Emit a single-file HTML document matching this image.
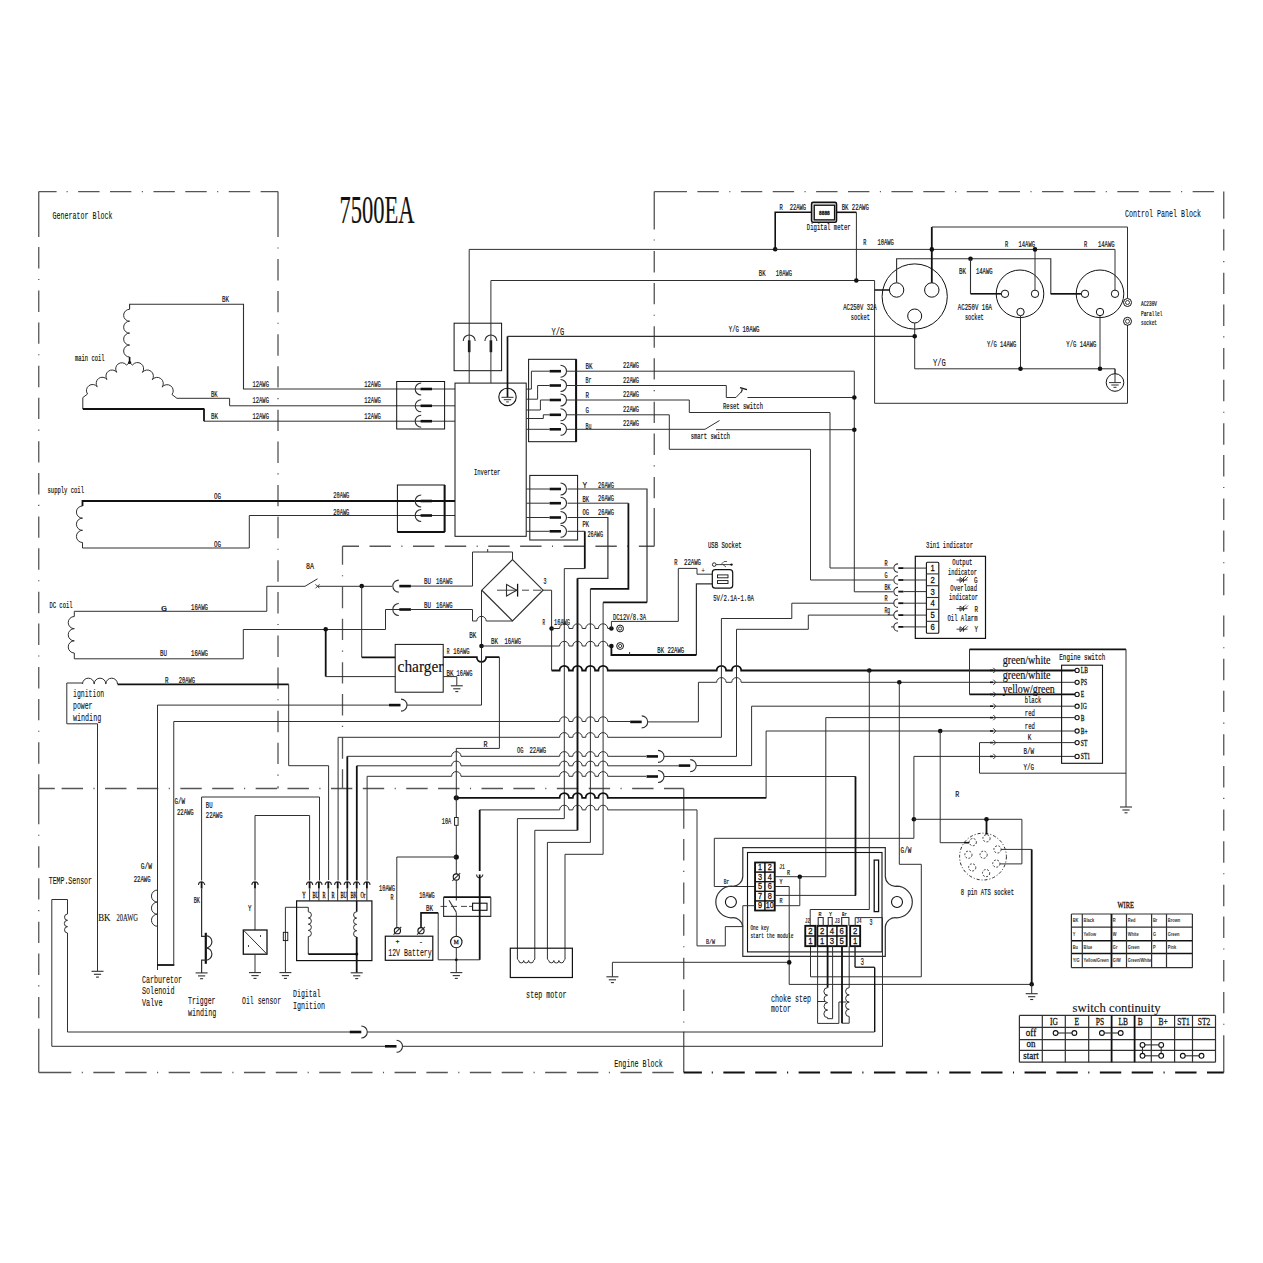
<!DOCTYPE html>
<html><head><meta charset="utf-8"><style>
html,body{margin:0;padding:0;background:#fff;}
body{width:1263px;height:1263px;overflow:hidden;font-family:"Liberation Serif",serif;}
svg{display:block;}
</style></head><body>
<svg width="1263" height="1263" viewBox="0 0 1263 1263">
<rect width="1263" height="1263" fill="#fff"/>
<path d="M38.75 191.5 V237 M38.75 247.1 V268.5 M38.75 278.95 V280.05 M38.75 290.55 V311.95 M38.75 322.4 V343.8 M38.75 354.25 V355.35 M38.75 365.85 V387.25 M38.75 397.7 V419.1 M38.75 429.55 V430.65 M38.75 441.15 V462.55 M38.75 473 V494.4 M38.75 504.85 V505.95 M38.75 516.45 V537.85 M38.75 548.3 V569.7 M38.75 580.15 V581.25 M38.75 591.75 V613.15 M38.75 623.6 V645 M38.75 655.45 V656.55 M38.75 667.05 V688.45 M38.75 698.9 V720.3 M38.75 730.75 V731.85 M38.75 742.35 V763.75 M38.75 774.2 V788.5" fill="none" stroke="#555" stroke-width="1.3"/>
<path d="M38.75 788.5 V824.3 M38.75 834.75 V835.85 M38.75 846.35 V867.75 M38.75 878.2 V899.6 M38.75 910.05 V911.15 M38.75 921.65 V943.05 M38.75 953.5 V974.9 M38.75 985.35 V986.45 M38.75 996.95 V1018.35 M38.75 1028.8 V1072.5" fill="none" stroke="#555" stroke-width="1.3"/>
<path d="M38.75 191.6 H56.6 M66.55 191.6 H67.65 M78.15 191.6 H99.55 M110 191.6 H131.4 M141.85 191.6 H142.95 M153.45 191.6 H174.85 M185.3 191.6 H206.7 M217.15 191.6 H218.25 M228.75 191.6 H250.15 M260.6 191.6 H278" fill="none" stroke="#555" stroke-width="1.3"/>
<path d="M278 191.6 V237 M278 247.45 V248.55 M278 259.05 V280.45 M278 290.9 V312.3 M278 322.75 V323.85 M278 334.35 V355.75 M278 366.2 V387.6 M278 398.05 V399.15 M278 409.65 V431.05 M278 441.5 V462.9 M278 473.35 V474.45 M278 484.95 V506.35 M278 516.8 V538.2 M278 548.65 V549.75 M278 560.25 V581.65 M278 592.1 V613.5 M278 623.95 V625.05 M278 635.55 V656.95 M278 667.4 V688.8 M278 699.25 V700.35 M278 710.85 V732.25 M278 742.7 V764.1 M278 774.55 V775.65 M278 786.15 V788.5" fill="none" stroke="#555" stroke-width="1.3"/>
<path d="M38.75 788.5 H54.8 M61.6 788.5 H83 M93.45 788.5 H94.55 M105.05 788.5 H126.45 M136.9 788.5 H158.3 M168.75 788.5 H169.85 M180.35 788.5 H201.75 M212.2 788.5 H233.6 M244.05 788.5 H245.15 M255.65 788.5 H277.05 M287.5 788.5 H308.9 M319.35 788.5 H320.45 M330.95 788.5 H352.35 M362.8 788.5 H384.2 M394.65 788.5 H395.75 M406.25 788.5 H427.65 M438.1 788.5 H459.5 M469.95 788.5 H471.05 M481.55 788.5 H502.95 M513.4 788.5 H534.8 M545.25 788.5 H546.35 M556.85 788.5 H578.25 M588.7 788.5 H610.1 M620.55 788.5 H621.65 M632.15 788.5 H653.55 M664 788.5 H683.75" fill="none" stroke="#555" stroke-width="1.3"/>
<path d="M654.25 191.6 V229.5 M654.25 239.45 V240.55 M654.25 251.05 V272.45 M654.25 282.9 V304.3 M654.25 314.75 V315.85 M654.25 326.35 V347.75 M654.25 358.2 V379.6 M654.25 390.05 V391.15 M654.25 401.65 V423.05 M654.25 433.5 V454.9 M654.25 465.35 V466.45 M654.25 476.95 V498.35 M654.25 508 V546.25" fill="none" stroke="#555" stroke-width="1.3"/>
<path d="M654.25 191.6 H686.95 M697.4 191.6 H718.8 M729.25 191.6 H730.35 M740.85 191.6 H762.25 M772.7 191.6 H794.1 M804.55 191.6 H805.65 M816.15 191.6 H837.55 M848 191.6 H869.4 M879.85 191.6 H880.95 M891.45 191.6 H912.85 M923.3 191.6 H944.7 M955.15 191.6 H956.25 M966.75 191.6 H988.15 M998.6 191.6 H1020 M1030.45 191.6 H1031.55 M1042.05 191.6 H1063.45 M1073.9 191.6 H1095.3 M1105.75 191.6 H1106.85 M1117.35 191.6 H1138.75 M1149.2 191.6 H1170.6 M1181.05 191.6 H1182.15 M1192.65 191.6 H1214.05" fill="none" stroke="#555" stroke-width="1.3"/>
<path d="M1223.75 191.6 V218.8 M1223.75 229.2 V250.6 M1223.75 261.05 V262.15 M1223.75 272.65 V294.05 M1223.75 304.5 V325.9 M1223.75 336.35 V337.45 M1223.75 347.95 V369.35 M1223.75 379.8 V401.2 M1223.75 411.65 V412.75 M1223.75 423.25 V444.65 M1223.75 455.1 V476.5 M1223.75 486.95 V488.05 M1223.75 498.55 V519.95 M1223.75 530.4 V551.8 M1223.75 562.25 V563.35 M1223.75 573.85 V595.25" fill="none" stroke="#555" stroke-width="1.3"/>
<path d="M1223.75 615.4 V636.8 M1223.75 647.25 V648.35 M1223.75 658.85 V680.25 M1223.75 690.7 V712.1 M1223.75 722.55 V723.65 M1223.75 734.15 V755.55 M1223.75 766 V787.4 M1223.75 797.85 V798.95 M1223.75 809.45 V830.85 M1223.75 841.3 V862.7 M1223.75 873.15 V874.25 M1223.75 884.75 V906.15 M1223.75 916.6 V938 M1223.75 948.45 V949.55 M1223.75 960.05 V981.45 M1223.75 991.9 V1013.3 M1223.75 1023.75 V1024.85 M1223.75 1035.35 V1072.5" fill="none" stroke="#555" stroke-width="1.3"/>
<path d="M342.5 546.25 H359.05 M369.5 546.25 H390.9 M401.35 546.25 H402.45 M412.95 546.25 H434.35 M444.8 546.25 H466.2 M476.65 546.25 H477.75 M488.25 546.25 H509.65 M520.1 546.25 H541.5 M551.95 546.25 H553.05 M563.55 546.25 H584.95 M595.4 546.25 H616.8 M627.25 546.25 H628.35 M638.85 546.25 H654.25" fill="none" stroke="#555" stroke-width="1.3"/>
<path d="M342.5 546.25 V564.8 M342.5 575.25 V576.35 M342.5 586.85 V608.25 M342.5 618.7 V640.1 M342.5 650.55 V651.65 M342.5 662.15 V683.55 M342.5 694 V715.4 M342.5 725.85 V726.95 M342.5 737.45 V758.85 M342.5 769.3 V788.5" fill="none" stroke="#555" stroke-width="1.3"/>
<path d="M683.75 788.5 V828.7 M683.75 839 V860.4 M683.75 870.85 V871.95 M683.75 882.45 V903.85 M683.75 914.3 V935.7 M683.75 946.15 V947.25 M683.75 957.75 V979.15 M683.75 989.6 V1011 M683.75 1021.45 V1022.55 M683.75 1031.8 V1072.5" fill="none" stroke="#555" stroke-width="1.3"/>
<path d="M38.75 1072.5 H71.3 M81.75 1072.5 H82.85 M93.35 1072.5 H114.75 M125.2 1072.5 H146.6 M157.05 1072.5 H158.15 M168.65 1072.5 H190.05 M200.5 1072.5 H221.9 M232.35 1072.5 H233.45 M243.95 1072.5 H265.35 M275.8 1072.5 H297.2 M307.65 1072.5 H308.75 M319.25 1072.5 H340.65 M351.1 1072.5 H372.5 M382.95 1072.5 H384.05 M394.55 1072.5 H415.95 M426.4 1072.5 H447.8 M458.25 1072.5 H459.35 M469.85 1072.5 H491.25 M501.7 1072.5 H523.1 M533.55 1072.5 H534.65 M545.15 1072.5 H566.55 M577 1072.5 H598.4 M608.85 1072.5 H609.95 M620.45 1072.5 H641.85 M652.3 1072.5 H673.7" fill="none" stroke="#555" stroke-width="1.3"/>
<path d="M683.75 1072.5 H701.9 M711.75 1072.5 H712.85 M723.35 1072.5 H744.75 M755.2 1072.5 H776.6 M787.05 1072.5 H788.15 M798.65 1072.5 H820.05 M830.5 1072.5 H851.9 M862.35 1072.5 H863.45 M873.95 1072.5 H895.35 M905.8 1072.5 H927.2 M937.65 1072.5 H938.75 M949.25 1072.5 H970.65 M981.1 1072.5 H1002.5 M1012.95 1072.5 H1014.05 M1024.55 1072.5 H1045.95 M1056.4 1072.5 H1077.8 M1088.25 1072.5 H1089.35 M1099.85 1072.5 H1121.25 M1131.7 1072.5 H1153.1 M1163.55 1072.5 H1164.65 M1175.15 1072.5 H1196.55 M1207 1072.5 H1223.75" fill="none" stroke="#111" stroke-width="2"/>
<polyline points="129.6,309.3 129.6,304.3 243.5,304.3 243.5,389 455,389" fill="none" stroke="#303030" stroke-width="1.1"/>
<path d="M129.6 309.3 A5.96 5.96 0 0 0 129.6 321.23 A5.96 5.96 0 0 0 129.6 333.15 A5.96 5.96 0 0 0 129.6 345.07 A5.96 5.96 0 0 0 129.6 357" fill="none" stroke="#303030" stroke-width="1"/>
<polyline points="129.6,357 129.6,362.7" fill="none" stroke="#111" stroke-width="1.6"/>
<circle cx="129.6" cy="362.5" r="1.6" fill="#111"/>
<polyline points="129.6,362.7 126.5,365" fill="none" stroke="#303030" stroke-width="1"/>
<path d="M126.5 365 A6.08 6.08 0 0 0 116.75 372.25 A6.08 6.08 0 0 0 107 379.5 A6.08 6.08 0 0 0 97.25 386.75 A6.08 6.08 0 0 0 87.5 394" fill="none" stroke="#303030" stroke-width="1"/>
<polyline points="87.5,394 82.8,397.6 82.8,409" fill="none" stroke="#303030" stroke-width="1"/>
<polyline points="82.8,409 204,409" fill="none" stroke="#111" stroke-width="1.8"/>
<polyline points="204,408.5 204,421.2" fill="none" stroke="#111" stroke-width="1.8"/>
<polyline points="204,421.2 455,421.2" fill="none" stroke="#303030" stroke-width="1"/>
<polyline points="129.6,362.7 132.5,365" fill="none" stroke="#303030" stroke-width="1"/>
<path d="M132.5 365 A6.16 6.16 0 0 1 142.38 372.38 A6.16 6.16 0 0 1 152.25 379.75 A6.16 6.16 0 0 1 162.12 387.12 A6.16 6.16 0 0 1 172 394.5" fill="none" stroke="#303030" stroke-width="1"/>
<polyline points="172,394.5 176.9,398.3 229.6,398.3 229.6,405.8 455,405.8" fill="none" stroke="#303030" stroke-width="1"/>
<rect x="396.7" y="381.5" width="47.9" height="47.5" fill="none" stroke="#111" stroke-width="1" rx="0"/>
<path d="M421.2 383 A6 6 0 0 0 421.2 395" fill="none" stroke="#303030" stroke-width="1.1"/>
<polyline points="420.6,389 432,389" fill="none" stroke="#111" stroke-width="2.6"/>
<path d="M421.2 399.8 A6 6 0 0 0 421.2 411.8" fill="none" stroke="#303030" stroke-width="1.1"/>
<polyline points="420.6,405.8 432,405.8" fill="none" stroke="#111" stroke-width="2.6"/>
<path d="M421.2 415.2 A6 6 0 0 0 421.2 427.2" fill="none" stroke="#303030" stroke-width="1.1"/>
<polyline points="420.6,421.2 432,421.2" fill="none" stroke="#111" stroke-width="2.6"/>
<polyline points="82.5,506 82.5,501 455,501" fill="none" stroke="#111" stroke-width="1.8"/>
<path d="M82.5 506 A6.08 6.08 0 0 0 82.5 518.17 A6.08 6.08 0 0 0 82.5 530.33 A6.08 6.08 0 0 0 82.5 542.5" fill="none" stroke="#303030" stroke-width="1"/>
<polyline points="82.5,542.5 82.5,548 249.3,548 249.3,515.5 455,515.5" fill="none" stroke="#303030" stroke-width="1"/>
<rect x="397.4" y="485" width="47.2" height="47" fill="none" stroke="#111" stroke-width="1" rx="0"/>
<polyline points="444.6,485 444.6,532" fill="none" stroke="#111" stroke-width="2"/>
<polyline points="397.4,532 444.6,532" fill="none" stroke="#111" stroke-width="2"/>
<path d="M421.2 495 A6 6 0 0 0 421.2 507" fill="none" stroke="#303030" stroke-width="1.1"/>
<polyline points="420.6,501 432,501" fill="none" stroke="#111" stroke-width="2.6"/>
<path d="M421.2 509.5 A6 6 0 0 0 421.2 521.5" fill="none" stroke="#303030" stroke-width="1.1"/>
<polyline points="420.6,515.5 432,515.5" fill="none" stroke="#111" stroke-width="2.6"/>
<polyline points="74.3,616.5 74.3,611.3 266.8,611.3 266.8,586.3 305,586.3" fill="none" stroke="#303030" stroke-width="1"/>
<path d="M74.3 616.5 A6.08 6.08 0 0 0 74.3 628.67 A6.08 6.08 0 0 0 74.3 640.83 A6.08 6.08 0 0 0 74.3 653" fill="none" stroke="#303030" stroke-width="1"/>
<polyline points="74.3,653 74.3,658.8 243.3,658.8 243.3,629.5 385.5,629.5 385.5,609.5 410,609.5" fill="none" stroke="#303030" stroke-width="1"/>
<polyline points="305,586.3 317.5,578.8" fill="none" stroke="#303030" stroke-width="1"/>
<polyline points="315.5,584.3 319.5,588.3" fill="none" stroke="#303030" stroke-width="0.9"/>
<polyline points="315.5,588.3 319.5,584.3" fill="none" stroke="#303030" stroke-width="0.9"/>
<polyline points="317.5,586.3 392,586.3" fill="none" stroke="#303030" stroke-width="1"/>
<polyline points="97.5,971 97.5,723.8 66.8,723.8 66.8,683 82.5,683" fill="none" stroke="#303030" stroke-width="1"/>
<path d="M82.5 684 A5.83 5.83 0 0 1 94.17 684 A5.83 5.83 0 0 1 105.83 684 A5.83 5.83 0 0 1 117.5 684" fill="none" stroke="#303030" stroke-width="1"/>
<polyline points="117.5,684.3 288.7,684.3" fill="none" stroke="#111" stroke-width="1.8"/>
<polyline points="288.7,684.3 288.7,765.7 328.6,765.7 328.6,880" fill="none" stroke="#303030" stroke-width="1"/>
<rect x="455" y="383.1" width="71.2" height="153.2" fill="none" stroke="#111" stroke-width="1" rx="0"/>
<rect x="454.1" y="323.2" width="47.5" height="47.5" fill="none" stroke="#111" stroke-width="1" rx="0"/>
<path d="M463.2 341 A6 6 0 0 1 475.2 341" fill="none" stroke="#303030" stroke-width="1.1"/>
<polyline points="469.2,340.3 469.2,352.2" fill="none" stroke="#111" stroke-width="2.6"/>
<path d="M484.9 341 A6 6 0 0 1 496.9 341" fill="none" stroke="#303030" stroke-width="1.1"/>
<polyline points="490.9,340.3 490.9,352.2" fill="none" stroke="#111" stroke-width="2.6"/>
<polyline points="469.2,383.1 469.2,249.4 775.2,249.4" fill="none" stroke="#303030" stroke-width="1"/>
<polyline points="490.9,383.1 490.9,280.5 874.6,280.5 874.6,403.3 1127.5,403.3 1127.5,325" fill="none" stroke="#303030" stroke-width="1"/>
<circle cx="507.5" cy="396.9" r="8.7" fill="none" stroke="#111" stroke-width="1.1"/>
<polyline points="507.5,397.3 507.5,336.3" fill="none" stroke="#111" stroke-width="1.7"/>
<polyline points="507.5,336.3 914.7,336.3" fill="none" stroke="#303030" stroke-width="1.15"/>
<polyline points="501.5,397.3 513.5,397.3" fill="none" stroke="#303030" stroke-width="1"/>
<polyline points="503.8,399.7 511.2,399.7" fill="none" stroke="#303030" stroke-width="1"/>
<polyline points="506.2,401.9 508.8,401.9" fill="none" stroke="#303030" stroke-width="1"/>
<rect x="528.6" y="359.3" width="47.5" height="82.4" fill="none" stroke="#111" stroke-width="1" rx="0"/>
<polyline points="576.1,359.3 576.1,441.7" fill="none" stroke="#111" stroke-width="2"/>
<polyline points="549.6,371.2 561,371.2" fill="none" stroke="#111" stroke-width="2.6"/>
<path d="M560.5 365.2 A6 6 0 0 1 560.5 377.2" fill="none" stroke="#303030" stroke-width="1.1"/>
<polyline points="549.6,385.5 561,385.5" fill="none" stroke="#111" stroke-width="2.6"/>
<path d="M560.5 379.5 A6 6 0 0 1 560.5 391.5" fill="none" stroke="#303030" stroke-width="1.1"/>
<polyline points="549.6,400 561,400" fill="none" stroke="#111" stroke-width="2.6"/>
<path d="M560.5 394 A6 6 0 0 1 560.5 406" fill="none" stroke="#303030" stroke-width="1.1"/>
<polyline points="549.6,414.8 561,414.8" fill="none" stroke="#111" stroke-width="2.6"/>
<path d="M560.5 408.8 A6 6 0 0 1 560.5 420.8" fill="none" stroke="#303030" stroke-width="1.1"/>
<polyline points="549.6,429.3 561,429.3" fill="none" stroke="#111" stroke-width="2.6"/>
<path d="M560.5 423.3 A6 6 0 0 1 560.5 435.3" fill="none" stroke="#303030" stroke-width="1.1"/>
<polyline points="549.6,371.2 531.4,371.2 531.4,389.1 526.2,389.1" fill="none" stroke="#303030" stroke-width="1"/>
<polyline points="549.6,385.5 537.6,385.5 537.6,399.2 526.2,399.2" fill="none" stroke="#303030" stroke-width="1"/>
<polyline points="549.6,400 540.4,400 540.4,410 526.2,410" fill="none" stroke="#303030" stroke-width="1"/>
<polyline points="549.6,414.8 543.3,414.8 543.3,418.5 526.2,418.5" fill="none" stroke="#303030" stroke-width="1"/>
<polyline points="549.6,429.3 526.2,429.3" fill="none" stroke="#303030" stroke-width="1"/>
<polyline points="567,371.2 854.3,371.2 854.3,591.8 893,591.8" fill="none" stroke="#303030" stroke-width="1"/>
<polyline points="567,385.5 726.3,385.5 726.3,397.5 736,397.5" fill="none" stroke="#303030" stroke-width="1"/>
<polyline points="736,397.5 742.5,390.5" fill="none" stroke="#303030" stroke-width="1"/>
<polyline points="740,387.5 747,389.5" fill="none" stroke="#111" stroke-width="1.3"/>
<polyline points="742.5,388 741.2,392.5" fill="none" stroke="#303030" stroke-width="1.1"/>
<polyline points="747.5,397.5 854.3,397.5" fill="none" stroke="#303030" stroke-width="1"/>
<circle cx="854.3" cy="397.5" r="2.3" fill="#111"/>
<polyline points="567,400 689.3,400 689.3,412.5 830,412.5 830,568 893,568" fill="none" stroke="#303030" stroke-width="1"/>
<polyline points="567,414.8 669.3,414.8 669.3,449.3 810.5,449.3 810.5,580 893,580" fill="none" stroke="#303030" stroke-width="1"/>
<polyline points="567,429.3 705,429.3 719.5,420.5" fill="none" stroke="#303030" stroke-width="1"/>
<polyline points="716,429.7 854.3,429.7" fill="none" stroke="#303030" stroke-width="1"/>
<circle cx="854.3" cy="429.7" r="2.3" fill="#111"/>
<rect x="529.8" y="475.4" width="47.8" height="64.6" fill="none" stroke="#111" stroke-width="1" rx="0"/>
<polyline points="549.6,489 561,489" fill="none" stroke="#111" stroke-width="2.6"/>
<path d="M560.5 483 A6 6 0 0 1 560.5 495" fill="none" stroke="#303030" stroke-width="1.1"/>
<polyline points="549.6,503.2 561,503.2" fill="none" stroke="#111" stroke-width="2.6"/>
<path d="M560.5 497.2 A6 6 0 0 1 560.5 509.2" fill="none" stroke="#303030" stroke-width="1.1"/>
<polyline points="549.6,517.5 561,517.5" fill="none" stroke="#111" stroke-width="2.6"/>
<path d="M560.5 511.5 A6 6 0 0 1 560.5 523.5" fill="none" stroke="#303030" stroke-width="1.1"/>
<polyline points="549.6,531.3 561,531.3" fill="none" stroke="#111" stroke-width="2.6"/>
<path d="M560.5 525.3 A6 6 0 0 1 560.5 537.3" fill="none" stroke="#303030" stroke-width="1.1"/>
<polyline points="526.2,489 549.6,489" fill="none" stroke="#303030" stroke-width="1"/>
<polyline points="526.2,503.2 549.6,503.2" fill="none" stroke="#303030" stroke-width="1"/>
<polyline points="526.2,517.5 549.6,517.5" fill="none" stroke="#303030" stroke-width="1"/>
<polyline points="526.2,531.3 549.6,531.3" fill="none" stroke="#303030" stroke-width="1"/>
<rect x="811.6" y="202.4" width="24.9" height="19.9" fill="none" stroke="#111" stroke-width="1.6" rx="1.5"/>
<rect x="814.2" y="205.2" width="20.4" height="14.7" fill="none" stroke="#111" stroke-width="1.4" rx="0"/>
<text x="824.4" y="215.5" font-size="6" text-anchor="middle" font-family="Liberation Serif" font-weight="bold" fill="#111" stroke="#111" stroke-width="0.28" transform="translate(824.4,215.5) scale(0.9,1) translate(-824.4,-215.5)">8888</text>
<polyline points="811.6,212.3 775.2,212.3 775.2,249.4" fill="none" stroke="#111" stroke-width="1.6"/>
<polyline points="836.5,212.3 856.4,212.3" fill="none" stroke="#111" stroke-width="1.6"/>
<polyline points="856.4,212.3 856.4,280.5" fill="none" stroke="#303030" stroke-width="1"/>
<circle cx="775.2" cy="249.2" r="2.3" fill="#111"/>
<circle cx="856.3" cy="280.5" r="2.3" fill="#111"/>
<polyline points="775.2,249.4 1115,249.4 1115,290.1" fill="none" stroke="#303030" stroke-width="1"/>
<circle cx="914.7" cy="296.5" r="32.6" fill="none" stroke="#111" stroke-width="1"/>
<circle cx="896.6" cy="290" r="7.2" fill="none" stroke="#111" stroke-width="1"/>
<circle cx="931.8" cy="290" r="7.2" fill="none" stroke="#111" stroke-width="1"/>
<circle cx="914.7" cy="316" r="7" fill="none" stroke="#111" stroke-width="1"/>
<polyline points="874.6,290 889.4,290" fill="none" stroke="#111" stroke-width="1.5"/>
<polyline points="896.6,282.8 896.6,258.7 1050.8,258.7 1050.8,293.8 1080,293.8" fill="none" stroke="#303030" stroke-width="1.1"/>
<polyline points="1050.8,293.8 1081.3,293.8" fill="none" stroke="#111" stroke-width="1.6"/>
<polyline points="931.8,282.8 931.8,227" fill="none" stroke="#111" stroke-width="1.8"/>
<polyline points="931.8,227 1127.5,227 1127.5,298" fill="none" stroke="#303030" stroke-width="1"/>
<circle cx="931.8" cy="249.4" r="2.3" fill="#111"/>
<polyline points="914.7,323 914.7,368.8 1115,368.8 1115,374" fill="none" stroke="#303030" stroke-width="1"/>
<circle cx="914.7" cy="336.3" r="2.3" fill="#111"/>
<circle cx="1020" cy="293.8" r="23.8" fill="none" stroke="#111" stroke-width="1"/>
<circle cx="1005" cy="293.8" r="3.7" fill="none" stroke="#111" stroke-width="1"/>
<circle cx="1035" cy="293.8" r="3.7" fill="none" stroke="#111" stroke-width="1"/>
<circle cx="1020.5" cy="312" r="3.7" fill="none" stroke="#111" stroke-width="1"/>
<circle cx="970.5" cy="258.7" r="2.3" fill="#111"/>
<polyline points="970.5,258.7 970.5,293.8" fill="none" stroke="#303030" stroke-width="1.1"/>
<polyline points="970.5,293.8 1001.3,293.8" fill="none" stroke="#111" stroke-width="1.6"/>
<polyline points="1035,290.1 1035,249.4" fill="none" stroke="#303030" stroke-width="1"/>
<circle cx="1035" cy="249.4" r="2.3" fill="#111"/>
<polyline points="1020.5,315.7 1020.5,368.8" fill="none" stroke="#303030" stroke-width="1"/>
<circle cx="1020.5" cy="368.8" r="2.3" fill="#111"/>
<circle cx="1100" cy="293.8" r="23.8" fill="none" stroke="#111" stroke-width="1"/>
<circle cx="1085" cy="293.8" r="3.7" fill="none" stroke="#111" stroke-width="1"/>
<circle cx="1115" cy="293.8" r="3.7" fill="none" stroke="#111" stroke-width="1"/>
<circle cx="1100" cy="312" r="3.7" fill="none" stroke="#111" stroke-width="1"/>
<polyline points="1100,315.7 1100,368.8" fill="none" stroke="#303030" stroke-width="1"/>
<circle cx="1100" cy="368.8" r="2.3" fill="#111"/>
<circle cx="1115" cy="382.5" r="8.8" fill="none" stroke="#111" stroke-width="1"/>
<polyline points="1115,368.8 1115,382.6" fill="none" stroke="#303030" stroke-width="1"/>
<polyline points="1109,382.6 1121,382.6" fill="none" stroke="#303030" stroke-width="1"/>
<polyline points="1111.3,385 1118.7,385" fill="none" stroke="#303030" stroke-width="1"/>
<polyline points="1113.5,387.3 1116.5,387.3" fill="none" stroke="#303030" stroke-width="1"/>
<circle cx="1127.5" cy="302.5" r="4" fill="none" stroke="#111" stroke-width="1"/>
<circle cx="1127.5" cy="302.5" r="2" fill="none" stroke="#111" stroke-width="0.8"/>
<circle cx="1127.5" cy="321.3" r="4" fill="none" stroke="#111" stroke-width="1"/>
<circle cx="1127.5" cy="321.3" r="2" fill="none" stroke="#111" stroke-width="0.8"/>
<path d="M398.8 580.1 A6 6 0 0 0 398.8 592.1" fill="none" stroke="#303030" stroke-width="1.1"/>
<polyline points="399.3,586.1 410.9,586.1" fill="none" stroke="#111" stroke-width="2.6"/>
<path d="M398.8 603.5 A6 6 0 0 0 398.8 615.5" fill="none" stroke="#303030" stroke-width="1.1"/>
<polyline points="399.3,609.5 410.9,609.5" fill="none" stroke="#111" stroke-width="2.6"/>
<circle cx="361.7" cy="586.1" r="2.3" fill="#111"/>
<polyline points="361.7,586.1 361.7,657.3" fill="none" stroke="#303030" stroke-width="1"/>
<polyline points="361.7,657.3 395.2,657.3" fill="none" stroke="#111" stroke-width="1.8"/>
<circle cx="325.7" cy="629.3" r="2.3" fill="#111"/>
<polyline points="325.7,629.3 325.7,676.6" fill="none" stroke="#111" stroke-width="1.8"/>
<polyline points="325.7,676.6 395.2,676.6" fill="none" stroke="#303030" stroke-width="1"/>
<polyline points="410.9,586.1 472.5,586.1 472.5,552 512.5,552 512.5,559.6" fill="none" stroke="#303030" stroke-width="1"/>
<polyline points="487.7,552 487.7,549" fill="none" stroke="#303030" stroke-width="1"/>
<polyline points="410.9,609.5 472.5,609.5 472.5,621" fill="none" stroke="#303030" stroke-width="1"/>
<path d="M472.5 621 H476.8 A4.7 4.7 0 0 1 486.2 621 H512.5" fill="none" stroke="#303030" stroke-width="1"/>
<rect x="395.2" y="644.4" width="48" height="47.8" fill="none" stroke="#111" stroke-width="1" rx="0"/>
<path d="M443.2 657.2 H476.8 A4.7 4.7 0 0 0 486.2 657.2 H499.4" fill="none" stroke="#111" stroke-width="1.8"/>
<polyline points="499.4,657.2 499.4,748.4 456.3,748.4" fill="none" stroke="#303030" stroke-width="1"/>
<polyline points="443.2,676.6 456.8,676.6 456.8,685.8" fill="none" stroke="#303030" stroke-width="1"/>
<polyline points="450.8,685.8 462.8,685.8" fill="none" stroke="#303030" stroke-width="1.1"/>
<polyline points="453.2,688.8 460.4,688.8" fill="none" stroke="#303030" stroke-width="1.1"/>
<polyline points="455.3,691.6 458.3,691.6" fill="none" stroke="#303030" stroke-width="1.1"/>
<polyline points="389,705.1 400.5,705.1" fill="none" stroke="#111" stroke-width="2.6"/>
<path d="M401 699.1 A6 6 0 0 1 401 711.1" fill="none" stroke="#303030" stroke-width="1.1"/>
<polyline points="406.9,705.1 481.5,705.1 481.5,590.2" fill="none" stroke="#303030" stroke-width="1"/>
<polyline points="157.5,970 157.5,705.1 389,705.1" fill="none" stroke="#303030" stroke-width="1"/>
<path d="M512.5 559.6 L543 590.2 L512.5 620.9 L481.8 590.2 Z" fill="none" stroke="#303030" stroke-width="1.2"/>
<path d="M506.5 584.5 L506.5 596 L516.8 590.2 Z" fill="none" stroke="#303030" stroke-width="1.1"/>
<polyline points="517.6,583.8 517.6,596.6" fill="none" stroke="#111" stroke-width="1.3"/>
<polyline points="497,590.2 517.6,590.2" fill="none" stroke="#303030" stroke-width="0.9"/>
<polyline points="522,590.2 529,590.2" fill="none" stroke="#303030" stroke-width="0.9"/>
<polyline points="533,590.2 541,590.2" fill="none" stroke="#303030" stroke-width="0.9"/>
<circle cx="481.5" cy="646" r="2.3" fill="#111"/>
<polyline points="543,590.2 551.6,590.2 551.6,670.5" fill="none" stroke="#303030" stroke-width="1"/>
<circle cx="551.6" cy="628.5" r="2.3" fill="#111"/>
<polyline points="567.5,531.3 584.8,531.3" fill="none" stroke="#303030" stroke-width="1"/>
<polyline points="584.8,531.3 584.8,568.6" fill="none" stroke="#111" stroke-width="1.8"/>
<polyline points="584.8,568.6 564.3,568.6 564.3,818.6 517.4,818.6 517.4,959.1" fill="none" stroke="#303030" stroke-width="1"/>
<polyline points="567.5,517.5 607.9,517.5 607.9,578.3 577.5,578.3" fill="none" stroke="#303030" stroke-width="1.2"/>
<polyline points="577.5,578.3 577.5,830.3" fill="none" stroke="#111" stroke-width="1.9"/>
<polyline points="577.5,830.3 534.8,830.3 534.8,959.1" fill="none" stroke="#303030" stroke-width="1"/>
<polyline points="567.5,503.2 628.4,503.2" fill="none" stroke="#303030" stroke-width="1"/>
<polyline points="628.4,503.2 628.4,588.9 590.4,588.9" fill="none" stroke="#111" stroke-width="1.8"/>
<polyline points="590.4,588.9 590.4,842.4 547.4,842.4 547.4,959.1" fill="none" stroke="#303030" stroke-width="1"/>
<polyline points="567.5,489 647,489 647,602.4" fill="none" stroke="#303030" stroke-width="1.2"/>
<polyline points="647,602.4 603.1,602.4" fill="none" stroke="#111" stroke-width="1.8"/>
<polyline points="603.1,602.4 603.1,854.3 565,854.3 565,959.1" fill="none" stroke="#303030" stroke-width="1"/>
<path d="M551.6 628.5 H559.6 A4.7 4.7 0 0 1 569 628.5 H572.8 A4.7 4.7 0 0 1 582.2 628.5 H585.7 A4.7 4.7 0 0 1 595.1 628.5 H598.4 A4.7 4.7 0 0 1 607.8 628.5 H611.4" fill="none" stroke="#303030" stroke-width="1"/>
<path d="M481.5 646 H559.6 A4.7 4.7 0 0 1 569 646 H572.8 A4.7 4.7 0 0 1 582.2 646 H585.7 A4.7 4.7 0 0 1 595.1 646 H598.4 A4.7 4.7 0 0 1 607.8 646 H611.4" fill="none" stroke="#303030" stroke-width="1"/>
<path d="M551.6 670.5 H559.6 A4.7 4.7 0 0 1 569 670.5 H572.8 A4.7 4.7 0 0 1 582.2 670.5 H585.7 A4.7 4.7 0 0 1 595.1 670.5 H598.4 A4.7 4.7 0 0 1 607.8 670.5 H716.7 A4.7 4.7 0 0 1 726.1 670.5 H731.8 A4.7 4.7 0 0 1 741.2 670.5 H1073" fill="none" stroke="#111" stroke-width="1.8"/>
<path d="M173.75 721.5 H559.6 A4.7 4.7 0 0 1 569 721.5 H572.8 A4.7 4.7 0 0 1 582.2 721.5 H585.7 A4.7 4.7 0 0 1 595.1 721.5 H598.4 A4.7 4.7 0 0 1 607.8 721.5 H630.4" fill="none" stroke="#303030" stroke-width="1"/>
<path d="M338.1 737.3 H559.6 A4.7 4.7 0 0 1 569 737.3 H572.8 A4.7 4.7 0 0 1 582.2 737.3 H585.7 A4.7 4.7 0 0 1 595.1 737.3 H598.4 A4.7 4.7 0 0 1 607.8 737.3 H721.4" fill="none" stroke="#303030" stroke-width="1"/>
<path d="M347.3 756.3 H451.6 A4.7 4.7 0 0 1 461 756.3 H559.6 A4.7 4.7 0 0 1 569 756.3 H572.8 A4.7 4.7 0 0 1 582.2 756.3 H585.7 A4.7 4.7 0 0 1 595.1 756.3 H598.4 A4.7 4.7 0 0 1 607.8 756.3 H646" fill="none" stroke="#303030" stroke-width="1"/>
<path d="M356.8 765.8 H451.6 A4.7 4.7 0 0 1 461 765.8 H559.6 A4.7 4.7 0 0 1 569 765.8 H572.8 A4.7 4.7 0 0 1 582.2 765.8 H585.7 A4.7 4.7 0 0 1 595.1 765.8 H598.4 A4.7 4.7 0 0 1 607.8 765.8 H678.7" fill="none" stroke="#303030" stroke-width="1"/>
<path d="M367.1 776.3 H451.6 A4.7 4.7 0 0 1 461 776.3 H559.6 A4.7 4.7 0 0 1 569 776.3 H572.8 A4.7 4.7 0 0 1 582.2 776.3 H585.7 A4.7 4.7 0 0 1 595.1 776.3 H598.4 A4.7 4.7 0 0 1 607.8 776.3 H646" fill="none" stroke="#303030" stroke-width="1"/>
<path d="M456.3 797.8 H559.6 A4.7 4.7 0 0 1 569 797.8 H572.8 A4.7 4.7 0 0 1 582.2 797.8 H585.7 A4.7 4.7 0 0 1 595.1 797.8 H598.4 A4.7 4.7 0 0 1 607.8 797.8 H766.3" fill="none" stroke="#111" stroke-width="1.8"/>
<path d="M479.6 809.9 H559.6 A4.7 4.7 0 0 1 569 809.9 H572.8 A4.7 4.7 0 0 1 582.2 809.9 H585.7 A4.7 4.7 0 0 1 595.1 809.9 H598.4 A4.7 4.7 0 0 1 607.8 809.9 H697" fill="none" stroke="#303030" stroke-width="1"/>
<circle cx="456.3" cy="797.8" r="2.6" fill="#111"/>
<circle cx="611.4" cy="628.5" r="2.3" fill="#111"/>
<circle cx="620.1" cy="628.5" r="3.4" fill="none" stroke="#111" stroke-width="1"/>
<circle cx="620.1" cy="628.5" r="1.6" fill="none" stroke="#111" stroke-width="0.8"/>
<circle cx="611.4" cy="646" r="2.3" fill="#111"/>
<circle cx="620.1" cy="646" r="3.4" fill="none" stroke="#111" stroke-width="1"/>
<circle cx="620.1" cy="646" r="1.6" fill="none" stroke="#111" stroke-width="0.8"/>
<polyline points="611.4,628.5 611.4,621.4 678.3,621.4 678.3,568.4 697,568.4 697,574.2 712.3,574.2" fill="none" stroke="#303030" stroke-width="1"/>
<polyline points="611.4,646 611.4,655 696.4,655" fill="none" stroke="#111" stroke-width="1.8"/>
<polyline points="696.4,655 696.4,583.9 712.3,583.9" fill="none" stroke="#303030" stroke-width="1.2"/>
<polyline points="629.6,652 629.6,655" fill="none" stroke="#303030" stroke-width="1"/>
<rect x="712.3" y="569.7" width="20.4" height="18.5" fill="none" stroke="#111" stroke-width="1.2" rx="3"/>
<rect x="717.5" y="574.9" width="10.5" height="2.9" fill="none" stroke="#111" stroke-width="0.9" rx="0"/>
<rect x="717.5" y="580.6" width="10.5" height="2.9" fill="none" stroke="#111" stroke-width="0.9" rx="0"/>
<circle cx="714.2" cy="564.6" r="1.8" fill="none" stroke="#111" stroke-width="0.9"/>
<polyline points="716,564.6 731,564.6" fill="none" stroke="#303030" stroke-width="0.9"/>
<polyline points="721,564.6 724,561.5 727,561.5" fill="none" stroke="#303030" stroke-width="0.8"/>
<polyline points="723,564.6 726,567" fill="none" stroke="#303030" stroke-width="0.8"/>
<circle cx="731.5" cy="564.6" r="1.2" fill="#111"/>
<path d="M456.3 748.4 V797.8" fill="none" stroke="#303030" stroke-width="1"/>
<rect x="915.3" y="556.3" width="70.2" height="82.1" fill="none" stroke="#111" stroke-width="1.2" rx="0"/>
<rect x="926.4" y="562.3" width="12.4" height="71" fill="none" stroke="#111" stroke-width="1.1" rx="1"/>
<polyline points="926.4,573.9 938.8,573.9" fill="none" stroke="#303030" stroke-width="1.1"/>
<polyline points="926.4,585.7 938.8,585.7" fill="none" stroke="#303030" stroke-width="1.1"/>
<polyline points="926.4,597.5 938.8,597.5" fill="none" stroke="#303030" stroke-width="1.1"/>
<polyline points="926.4,609.3 938.8,609.3" fill="none" stroke="#303030" stroke-width="1.1"/>
<polyline points="926.4,621.3 938.8,621.3" fill="none" stroke="#303030" stroke-width="1.1"/>
<text x="932.6" y="571.4" font-size="9" text-anchor="middle" font-family="Liberation Sans" font-weight="normal" fill="#111" stroke="#111" stroke-width="0.28" transform="translate(932.6,571.4) scale(0.85,1) translate(-932.6,-571.4)">1</text>
<path d="M898 563.9 A4.2 4.2 0 0 0 898 572.3" fill="none" stroke="#303030" stroke-width="1.1"/>
<polyline points="898.3,568.1 903.5,568.1" fill="none" stroke="#111" stroke-width="1.8"/>
<polyline points="903.5,568.1 926.4,568.1" fill="none" stroke="#303030" stroke-width="1"/>
<text x="932.6" y="583.3" font-size="9" text-anchor="middle" font-family="Liberation Sans" font-weight="normal" fill="#111" stroke="#111" stroke-width="0.28" transform="translate(932.6,583.3) scale(0.85,1) translate(-932.6,-583.3)">2</text>
<path d="M898 575.8 A4.2 4.2 0 0 0 898 584.2" fill="none" stroke="#303030" stroke-width="1.1"/>
<polyline points="898.3,580 903.5,580" fill="none" stroke="#111" stroke-width="1.8"/>
<polyline points="903.5,580 926.4,580" fill="none" stroke="#303030" stroke-width="1"/>
<text x="932.6" y="594.9" font-size="9" text-anchor="middle" font-family="Liberation Sans" font-weight="normal" fill="#111" stroke="#111" stroke-width="0.28" transform="translate(932.6,594.9) scale(0.85,1) translate(-932.6,-594.9)">3</text>
<path d="M898 587.4 A4.2 4.2 0 0 0 898 595.8" fill="none" stroke="#303030" stroke-width="1.1"/>
<polyline points="898.3,591.6 903.5,591.6" fill="none" stroke="#111" stroke-width="1.8"/>
<polyline points="903.5,591.6 926.4,591.6" fill="none" stroke="#303030" stroke-width="1"/>
<text x="932.6" y="606.5" font-size="9" text-anchor="middle" font-family="Liberation Sans" font-weight="normal" fill="#111" stroke="#111" stroke-width="0.28" transform="translate(932.6,606.5) scale(0.85,1) translate(-932.6,-606.5)">4</text>
<path d="M898 599 A4.2 4.2 0 0 0 898 607.4" fill="none" stroke="#303030" stroke-width="1.1"/>
<polyline points="898.3,603.2 903.5,603.2" fill="none" stroke="#111" stroke-width="1.8"/>
<polyline points="903.5,603.2 926.4,603.2" fill="none" stroke="#303030" stroke-width="1"/>
<text x="932.6" y="618.4" font-size="9" text-anchor="middle" font-family="Liberation Sans" font-weight="normal" fill="#111" stroke="#111" stroke-width="0.28" transform="translate(932.6,618.4) scale(0.85,1) translate(-932.6,-618.4)">5</text>
<path d="M898 610.9 A4.2 4.2 0 0 0 898 619.3" fill="none" stroke="#303030" stroke-width="1.1"/>
<polyline points="898.3,615.1 903.5,615.1" fill="none" stroke="#111" stroke-width="1.8"/>
<polyline points="903.5,615.1 926.4,615.1" fill="none" stroke="#303030" stroke-width="1"/>
<text x="932.6" y="630.2" font-size="9" text-anchor="middle" font-family="Liberation Sans" font-weight="normal" fill="#111" stroke="#111" stroke-width="0.28" transform="translate(932.6,630.2) scale(0.85,1) translate(-932.6,-630.2)">6</text>
<path d="M898 622.7 A4.2 4.2 0 0 0 898 631.1" fill="none" stroke="#303030" stroke-width="1.1"/>
<polyline points="898.3,626.9 903.5,626.9" fill="none" stroke="#111" stroke-width="1.8"/>
<polyline points="903.5,626.9 926.4,626.9" fill="none" stroke="#303030" stroke-width="1"/>
<polyline points="891.1,626.9 893.9,626.9" fill="none" stroke="#303030" stroke-width="1"/>
<polyline points="956.5,580 967.5,580" fill="none" stroke="#303030" stroke-width="0.9"/>
<path d="M960 577.5 L960 582.5 L963.5 580 Z" fill="none" stroke="#303030" stroke-width="0.9"/>
<polyline points="963.5,577.5 963.5,582.5" fill="none" stroke="#303030" stroke-width="0.9"/>
<polyline points="961,581 966,576" fill="none" stroke="#303030" stroke-width="0.8"/>
<polyline points="963,582 968,577" fill="none" stroke="#303030" stroke-width="0.8"/>
<polyline points="956.5,608.6 967.5,608.6" fill="none" stroke="#303030" stroke-width="0.9"/>
<path d="M960 606.1 L960 611.1 L963.5 608.6 Z" fill="none" stroke="#303030" stroke-width="0.9"/>
<polyline points="963.5,606.1 963.5,611.1" fill="none" stroke="#303030" stroke-width="0.9"/>
<polyline points="961,609.6 966,604.6" fill="none" stroke="#303030" stroke-width="0.8"/>
<polyline points="963,610.6 968,605.6" fill="none" stroke="#303030" stroke-width="0.8"/>
<polyline points="956.5,629.2 967.5,629.2" fill="none" stroke="#303030" stroke-width="0.9"/>
<path d="M960 626.7 L960 631.7 L963.5 629.2 Z" fill="none" stroke="#303030" stroke-width="0.9"/>
<polyline points="963.5,626.7 963.5,631.7" fill="none" stroke="#303030" stroke-width="0.9"/>
<polyline points="961,630.2 966,625.2" fill="none" stroke="#303030" stroke-width="0.8"/>
<polyline points="963,631.2 968,626.2" fill="none" stroke="#303030" stroke-width="0.8"/>
<polyline points="721.4,737.3 721.4,618.5 791.8,618.5 791.8,603.2 893.9,603.2" fill="none" stroke="#303030" stroke-width="1"/>
<polyline points="736.5,756.4 736.5,629.3 808.3,629.3 808.3,615.1 893.9,615.1" fill="none" stroke="#303030" stroke-width="1"/>
<polyline points="630.2,721.9 641.7,721.9" fill="none" stroke="#111" stroke-width="2.6"/>
<path d="M641.7 715.9 A6 6 0 0 1 641.7 727.9" fill="none" stroke="#303030" stroke-width="1.1"/>
<polyline points="647.7,721.9 698.4,721.9 698.4,682.3" fill="none" stroke="#303030" stroke-width="1"/>
<path d="M698.4 682.3 H716.7 A4.7 4.7 0 0 1 726.1 682.3 H731.8 A4.7 4.7 0 0 1 741.2 682.3 H1073" fill="none" stroke="#303030" stroke-width="1"/>
<polyline points="646.5,756.4 658,756.4" fill="none" stroke="#111" stroke-width="2.6"/>
<path d="M658 750.4 A6 6 0 0 1 658 762.4" fill="none" stroke="#303030" stroke-width="1.1"/>
<polyline points="664,756.4 736.5,756.4" fill="none" stroke="#303030" stroke-width="1"/>
<polyline points="678.7,765.6 690.2,765.6" fill="none" stroke="#111" stroke-width="2.6"/>
<path d="M690.2 759.6 A6 6 0 0 1 690.2 771.6" fill="none" stroke="#303030" stroke-width="1.1"/>
<polyline points="696.3,765.6 751.6,765.6 751.6,706.2 1073,706.2" fill="none" stroke="#303030" stroke-width="1"/>
<polyline points="646.5,776.5 658,776.5" fill="none" stroke="#111" stroke-width="2.6"/>
<path d="M658 770.5 A6 6 0 0 1 658 782.5" fill="none" stroke="#303030" stroke-width="1.1"/>
<polyline points="664,776.5 855.5,776.5 855.5,895.8" fill="none" stroke="#303030" stroke-width="1"/>
<polyline points="766.1,797.8 766.1,731 1073,731" fill="none" stroke="#303030" stroke-width="1"/>
<polyline points="825.8,717.6 1073,717.6" fill="none" stroke="#303030" stroke-width="1"/>
<polyline points="825.8,717.6 825.8,876.8" fill="none" stroke="#303030" stroke-width="1"/>
<polyline points="913.9,756.4 1073,756.4" fill="none" stroke="#303030" stroke-width="1"/>
<polyline points="913.9,756.4 913.9,838.3 714.3,838.3 714.3,886.5 755,886.5" fill="none" stroke="#303030" stroke-width="1"/>
<circle cx="869.3" cy="670.5" r="2.3" fill="#111"/>
<polyline points="869.3,670.5 869.3,909.5 810.2,909.5 810.2,925" fill="none" stroke="#303030" stroke-width="1"/>
<circle cx="899.3" cy="682.3" r="2.3" fill="#111"/>
<polyline points="899.3,682.3 899.3,864.3 921.3,864.3 921.3,976.8 810.5,976.8 810.5,945.5" fill="none" stroke="#303030" stroke-width="1"/>
<circle cx="940.2" cy="731" r="2.3" fill="#111"/>
<polyline points="940.2,731 940.2,842.7 964,842.7" fill="none" stroke="#303030" stroke-width="1"/>
<polyline points="964,842.7 969.2,842.7" fill="none" stroke="#111" stroke-width="1.6"/>
<polyline points="969.5,694.4 969.5,649.3" fill="none" stroke="#303030" stroke-width="1"/>
<polyline points="969.5,649.3 1126,649.3" fill="none" stroke="#111" stroke-width="1.8"/>
<polyline points="1126,649.3 1126,807" fill="none" stroke="#303030" stroke-width="1"/>
<polyline points="1120,807 1132,807" fill="none" stroke="#303030" stroke-width="1.1"/>
<polyline points="1122.4,810 1129.6,810" fill="none" stroke="#303030" stroke-width="1.1"/>
<polyline points="1124.5,812.8 1127.5,812.8" fill="none" stroke="#303030" stroke-width="1.1"/>
<polyline points="979.5,742.6 979.5,773.2 1126,773.2" fill="none" stroke="#303030" stroke-width="1"/>
<rect x="1061.6" y="665.2" width="40.9" height="98.1" fill="none" stroke="#111" stroke-width="1.1" rx="0"/>
<circle cx="1077.1" cy="670.4" r="2.1" fill="none" stroke="#111" stroke-width="1.1"/>
<text x="1080.8" y="673.4" font-size="8" text-anchor="start" font-family="Liberation Serif" font-weight="normal" fill="#111" stroke="#111" stroke-width="0.28" transform="translate(1080.8,673.4) scale(0.7,1) translate(-1080.8,-673.4)">LB</text>
<polyline points="990,670.4 993,670.4" fill="none" stroke="#111" stroke-width="1.6"/>
<polyline points="993.3,667.8 995.8,670.4 993.3,673" fill="none" stroke="#303030" stroke-width="1"/>
<circle cx="1077.1" cy="682.3" r="2.1" fill="none" stroke="#111" stroke-width="1.1"/>
<text x="1080.8" y="685.3" font-size="8" text-anchor="start" font-family="Liberation Serif" font-weight="normal" fill="#111" stroke="#111" stroke-width="0.28" transform="translate(1080.8,685.3) scale(0.7,1) translate(-1080.8,-685.3)">PS</text>
<polyline points="990,682.3 993,682.3" fill="none" stroke="#111" stroke-width="1.6"/>
<polyline points="993.3,679.7 995.8,682.3 993.3,684.9" fill="none" stroke="#303030" stroke-width="1"/>
<circle cx="1077.1" cy="694.4" r="2.1" fill="none" stroke="#111" stroke-width="1.1"/>
<text x="1080.8" y="697.4" font-size="8" text-anchor="start" font-family="Liberation Serif" font-weight="normal" fill="#111" stroke="#111" stroke-width="0.28" transform="translate(1080.8,697.4) scale(0.7,1) translate(-1080.8,-697.4)">E</text>
<polyline points="990,694.4 993,694.4" fill="none" stroke="#111" stroke-width="1.6"/>
<polyline points="993.3,691.8 995.8,694.4 993.3,697" fill="none" stroke="#303030" stroke-width="1"/>
<circle cx="1077.1" cy="706.2" r="2.1" fill="none" stroke="#111" stroke-width="1.1"/>
<text x="1080.8" y="709.2" font-size="8" text-anchor="start" font-family="Liberation Serif" font-weight="normal" fill="#111" stroke="#111" stroke-width="0.28" transform="translate(1080.8,709.2) scale(0.7,1) translate(-1080.8,-709.2)">IG</text>
<polyline points="990,706.2 993,706.2" fill="none" stroke="#111" stroke-width="1.6"/>
<polyline points="993.3,703.6 995.8,706.2 993.3,708.8" fill="none" stroke="#303030" stroke-width="1"/>
<circle cx="1077.1" cy="717.6" r="2.1" fill="none" stroke="#111" stroke-width="1.1"/>
<text x="1080.8" y="720.6" font-size="8" text-anchor="start" font-family="Liberation Serif" font-weight="normal" fill="#111" stroke="#111" stroke-width="0.28" transform="translate(1080.8,720.6) scale(0.7,1) translate(-1080.8,-720.6)">B</text>
<polyline points="990,717.6 993,717.6" fill="none" stroke="#111" stroke-width="1.6"/>
<polyline points="993.3,715 995.8,717.6 993.3,720.2" fill="none" stroke="#303030" stroke-width="1"/>
<circle cx="1077.1" cy="731" r="2.1" fill="none" stroke="#111" stroke-width="1.1"/>
<text x="1080.8" y="734" font-size="8" text-anchor="start" font-family="Liberation Serif" font-weight="normal" fill="#111" stroke="#111" stroke-width="0.28" transform="translate(1080.8,734) scale(0.7,1) translate(-1080.8,-734)">B+</text>
<polyline points="990,731 993,731" fill="none" stroke="#111" stroke-width="1.6"/>
<polyline points="993.3,728.4 995.8,731 993.3,733.6" fill="none" stroke="#303030" stroke-width="1"/>
<circle cx="1077.1" cy="742.6" r="2.1" fill="none" stroke="#111" stroke-width="1.1"/>
<text x="1080.8" y="745.6" font-size="8" text-anchor="start" font-family="Liberation Serif" font-weight="normal" fill="#111" stroke="#111" stroke-width="0.28" transform="translate(1080.8,745.6) scale(0.7,1) translate(-1080.8,-745.6)">ST</text>
<polyline points="990,742.6 993,742.6" fill="none" stroke="#111" stroke-width="1.6"/>
<polyline points="993.3,740 995.8,742.6 993.3,745.2" fill="none" stroke="#303030" stroke-width="1"/>
<circle cx="1077.1" cy="756.4" r="2.1" fill="none" stroke="#111" stroke-width="1.1"/>
<text x="1080.8" y="759.4" font-size="8" text-anchor="start" font-family="Liberation Serif" font-weight="normal" fill="#111" stroke="#111" stroke-width="0.28" transform="translate(1080.8,759.4) scale(0.7,1) translate(-1080.8,-759.4)">ST1</text>
<polyline points="990,756.4 993,756.4" fill="none" stroke="#111" stroke-width="1.6"/>
<polyline points="993.3,753.8 995.8,756.4 993.3,759" fill="none" stroke="#303030" stroke-width="1"/>
<polyline points="1073,670.4 1075,670.4" fill="none" stroke="#111" stroke-width="1.8"/>
<polyline points="969.5,694.4 1075,694.4" fill="none" stroke="#111" stroke-width="1.7"/>
<polyline points="979.5,742.6 1075,742.6" fill="none" stroke="#303030" stroke-width="1"/>
<polyline points="1073,682.3 1075,682.3" fill="none" stroke="#303030" stroke-width="1"/>
<polyline points="1073,706.2 1075,706.2" fill="none" stroke="#303030" stroke-width="1"/>
<polyline points="1073,717.6 1075,717.6" fill="none" stroke="#303030" stroke-width="1"/>
<polyline points="1073,731 1075,731" fill="none" stroke="#303030" stroke-width="1"/>
<polyline points="1073,756.4 1075,756.4" fill="none" stroke="#303030" stroke-width="1"/>
<polyline points="51.8,1046.3 51.8,899.5 67.5,899.5 67.5,914" fill="none" stroke="#303030" stroke-width="1"/>
<path d="M67.5 914 A3.17 3.17 0 0 0 67.5 920.33 A3.17 3.17 0 0 0 67.5 926.67 A3.17 3.17 0 0 0 67.5 933" fill="none" stroke="#303030" stroke-width="1"/>
<polyline points="67.5,933 67.5,1032 350,1032" fill="none" stroke="#303030" stroke-width="1"/>
<polyline points="51.8,1046.3 385,1046.3" fill="none" stroke="#303030" stroke-width="1"/>
<polyline points="349.8,1032 361.3,1032" fill="none" stroke="#111" stroke-width="2.6"/>
<path d="M361.3 1026 A6 6 0 0 1 361.3 1038" fill="none" stroke="#303030" stroke-width="1.1"/>
<polyline points="367.3,1032 874.5,1032 874.5,967 855,967 855,945.5" fill="none" stroke="#303030" stroke-width="1"/>
<polyline points="385,1046.3 396.5,1046.3" fill="none" stroke="#111" stroke-width="2.6"/>
<path d="M396.5 1040.3 A6 6 0 0 1 396.5 1052.3" fill="none" stroke="#303030" stroke-width="1.1"/>
<polyline points="402.5,1046.3 882.5,1046.3 882.5,918" fill="none" stroke="#303030" stroke-width="1"/>
<polyline points="91.5,971.3 103.5,971.3" fill="none" stroke="#303030" stroke-width="1.1"/>
<polyline points="93.9,974.3 101.1,974.3" fill="none" stroke="#303030" stroke-width="1.1"/>
<polyline points="96,977.1 99,977.1" fill="none" stroke="#303030" stroke-width="1.1"/>
<polyline points="157.5,890 157.5,705.1" fill="none" stroke="#303030" stroke-width="1"/>
<path d="M157.5 890 A6.05 6.05 0 0 0 157.5 902.1 A6.05 6.05 0 0 0 157.5 914.2 A6.05 6.05 0 0 0 157.5 926.3" fill="none" stroke="#303030" stroke-width="1"/>
<polyline points="157.5,926.3 157.5,965" fill="none" stroke="#303030" stroke-width="1"/>
<polyline points="157,965 174.3,965" fill="none" stroke="#111" stroke-width="1.8"/>
<polyline points="173.75,965 173.75,721.5" fill="none" stroke="#303030" stroke-width="1"/>
<polyline points="319.5,880.5 319.5,797 201.6,797 201.6,880.5" fill="none" stroke="#303030" stroke-width="1"/>
<path d="M198.5 885 A3.1 3.1 0 0 1 204.7 885" fill="none" stroke="#303030" stroke-width="1.1"/>
<polyline points="201.6,881.9 201.6,888.5" fill="none" stroke="#111" stroke-width="1.8"/>
<polyline points="201.6,888.5 201.6,936.3 205.8,936.3" fill="none" stroke="#303030" stroke-width="1.2"/>
<polyline points="205.8,932.8 205.8,963.8" fill="none" stroke="#111" stroke-width="2.2"/>
<path d="M205.8 935.6 A6.1 6.15 0 0 1 205.8 947.9 A6.1 6.15 0 0 1 205.8 960.2" fill="none" stroke="#303030" stroke-width="1.2"/>
<polyline points="205.8,960.2 201.6,960.2 201.6,972.9" fill="none" stroke="#303030" stroke-width="1.2"/>
<polyline points="195.6,972.9 207.6,972.9" fill="none" stroke="#303030" stroke-width="1.1"/>
<polyline points="198,975.9 205.2,975.9" fill="none" stroke="#303030" stroke-width="1.1"/>
<polyline points="200.1,978.7 203.1,978.7" fill="none" stroke="#303030" stroke-width="1.1"/>
<polyline points="309.6,880.5 309.6,815.5 255,815.5 255,880.5" fill="none" stroke="#303030" stroke-width="1"/>
<path d="M251.9 885 A3.1 3.1 0 0 1 258.1 885" fill="none" stroke="#303030" stroke-width="1.1"/>
<polyline points="255,881.9 255,888.5" fill="none" stroke="#111" stroke-width="1.8"/>
<polyline points="255,888.5 255,930" fill="none" stroke="#303030" stroke-width="1"/>
<rect x="243.3" y="930" width="23.7" height="24.2" fill="none" stroke="#111" stroke-width="1.3" rx="0"/>
<polyline points="243.8,930.5 266.5,953.7" fill="none" stroke="#303030" stroke-width="1"/>
<polyline points="248.5,945 248.5,947" fill="none" stroke="#303030" stroke-width="0.9"/>
<polyline points="260.5,935 260.5,937" fill="none" stroke="#303030" stroke-width="0.9"/>
<polyline points="255,954.2 255,972.6" fill="none" stroke="#303030" stroke-width="1"/>
<polyline points="249,972.6 261,972.6" fill="none" stroke="#303030" stroke-width="1.1"/>
<polyline points="251.4,975.6 258.6,975.6" fill="none" stroke="#303030" stroke-width="1.1"/>
<polyline points="253.5,978.4 256.5,978.4" fill="none" stroke="#303030" stroke-width="1.1"/>
<polyline points="308.3,907.3 285.4,907.3 285.4,972.6" fill="none" stroke="#303030" stroke-width="1"/>
<rect x="283.3" y="932.3" width="4.5" height="8.3" fill="none" stroke="#111" stroke-width="0.9" rx="0"/>
<polyline points="279.4,972.6 291.4,972.6" fill="none" stroke="#303030" stroke-width="1.1"/>
<polyline points="281.8,975.6 289,975.6" fill="none" stroke="#303030" stroke-width="1.1"/>
<polyline points="283.9,978.4 286.9,978.4" fill="none" stroke="#303030" stroke-width="1.1"/>
<rect x="296.6" y="900.9" width="75.3" height="59.7" fill="none" stroke="#111" stroke-width="1.2" rx="0"/>
<path d="M306.5 885 A3.1 3.1 0 0 1 312.7 885" fill="none" stroke="#303030" stroke-width="1.1"/>
<polyline points="309.6,881.9 309.6,888.5" fill="none" stroke="#111" stroke-width="1.8"/>
<polyline points="309.6,888.5 309.6,900.9" fill="none" stroke="#303030" stroke-width="1"/>
<path d="M315.8 885 A3.1 3.1 0 0 1 322 885" fill="none" stroke="#303030" stroke-width="1.1"/>
<polyline points="318.9,881.9 318.9,888.5" fill="none" stroke="#111" stroke-width="1.8"/>
<polyline points="318.9,888.5 318.9,900.9" fill="none" stroke="#303030" stroke-width="1"/>
<path d="M325.2 885 A3.1 3.1 0 0 1 331.4 885" fill="none" stroke="#303030" stroke-width="1.1"/>
<polyline points="328.3,881.9 328.3,888.5" fill="none" stroke="#111" stroke-width="1.8"/>
<polyline points="328.3,888.5 328.3,900.9" fill="none" stroke="#303030" stroke-width="1"/>
<path d="M334.6 885 A3.1 3.1 0 0 1 340.8 885" fill="none" stroke="#303030" stroke-width="1.1"/>
<polyline points="337.7,881.9 337.7,888.5" fill="none" stroke="#111" stroke-width="1.8"/>
<polyline points="337.7,888.5 337.7,900.9" fill="none" stroke="#303030" stroke-width="1"/>
<path d="M344.2 885 A3.1 3.1 0 0 1 350.4 885" fill="none" stroke="#303030" stroke-width="1.1"/>
<polyline points="347.3,881.9 347.3,888.5" fill="none" stroke="#111" stroke-width="1.8"/>
<polyline points="347.3,888.5 347.3,900.9" fill="none" stroke="#303030" stroke-width="1"/>
<path d="M353.6 885 A3.1 3.1 0 0 1 359.8 885" fill="none" stroke="#303030" stroke-width="1.1"/>
<polyline points="356.7,881.9 356.7,888.5" fill="none" stroke="#111" stroke-width="1.8"/>
<polyline points="356.7,888.5 356.7,900.9" fill="none" stroke="#303030" stroke-width="1"/>
<path d="M363.8 885 A3.1 3.1 0 0 1 370 885" fill="none" stroke="#303030" stroke-width="1.1"/>
<polyline points="366.9,881.9 366.9,888.5" fill="none" stroke="#111" stroke-width="1.8"/>
<polyline points="366.9,888.5 366.9,900.9" fill="none" stroke="#303030" stroke-width="1"/>
<text x="302.2" y="898.3" font-size="7.5" text-anchor="start" font-family="Liberation Serif" font-weight="normal" fill="#111" stroke="#111" stroke-width="0.28" transform="translate(302.2,898.3) scale(0.62,1) translate(-302.2,-898.3)">Y</text>
<text x="312.5" y="898.3" font-size="7.5" text-anchor="start" font-family="Liberation Serif" font-weight="normal" fill="#111" stroke="#111" stroke-width="0.28" transform="translate(312.5,898.3) scale(0.62,1) translate(-312.5,-898.3)">BU</text>
<text x="322.5" y="898.3" font-size="7.5" text-anchor="start" font-family="Liberation Serif" font-weight="normal" fill="#111" stroke="#111" stroke-width="0.28" transform="translate(322.5,898.3) scale(0.62,1) translate(-322.5,-898.3)">R</text>
<text x="331.5" y="898.3" font-size="7.5" text-anchor="start" font-family="Liberation Serif" font-weight="normal" fill="#111" stroke="#111" stroke-width="0.28" transform="translate(331.5,898.3) scale(0.62,1) translate(-331.5,-898.3)">R</text>
<text x="340.5" y="898.3" font-size="7.5" text-anchor="start" font-family="Liberation Serif" font-weight="normal" fill="#111" stroke="#111" stroke-width="0.28" transform="translate(340.5,898.3) scale(0.62,1) translate(-340.5,-898.3)">BU</text>
<text x="350.5" y="898.3" font-size="7.5" text-anchor="start" font-family="Liberation Serif" font-weight="normal" fill="#111" stroke="#111" stroke-width="0.28" transform="translate(350.5,898.3) scale(0.62,1) translate(-350.5,-898.3)">BK</text>
<text x="360.5" y="898.3" font-size="7.5" text-anchor="start" font-family="Liberation Serif" font-weight="normal" fill="#111" stroke="#111" stroke-width="0.28" transform="translate(360.5,898.3) scale(0.62,1) translate(-360.5,-898.3)">Or</text>
<polyline points="308.3,907.3 308.3,911.8" fill="none" stroke="#303030" stroke-width="1"/>
<path d="M308.3 911.8 A3.1 3.1 0 0 1 308.3 918 A3.1 3.1 0 0 1 308.3 924.2 A3.1 3.1 0 0 1 308.3 930.4 A3.1 3.1 0 0 1 308.3 936.6" fill="none" stroke="#303030" stroke-width="1"/>
<polyline points="308.3,936.6 308.3,954.1" fill="none" stroke="#303030" stroke-width="1"/>
<polyline points="308.3,954.1 356.7,954.1" fill="none" stroke="#111" stroke-width="1.8"/>
<polyline points="356.7,900.9 356.7,911.8" fill="none" stroke="#111" stroke-width="1.6"/>
<path d="M356.7 911.8 A3.15 3.15 0 0 0 356.7 918.1 A3.15 3.15 0 0 0 356.7 924.4 A3.15 3.15 0 0 0 356.7 930.7 A3.15 3.15 0 0 0 356.7 937" fill="none" stroke="#303030" stroke-width="1"/>
<polyline points="356.7,937 356.7,972.8" fill="none" stroke="#111" stroke-width="1.8"/>
<circle cx="356.7" cy="954.1" r="1.6" fill="#111"/>
<polyline points="350.7,972.8 362.7,972.8" fill="none" stroke="#303030" stroke-width="1.1"/>
<polyline points="353.1,975.8 360.3,975.8" fill="none" stroke="#303030" stroke-width="1.1"/>
<polyline points="355.2,978.6 358.2,978.6" fill="none" stroke="#303030" stroke-width="1.1"/>
<polyline points="338.1,737.3 338.1,880.5" fill="none" stroke="#303030" stroke-width="1"/>
<polyline points="347.3,756.3 347.3,880.5" fill="none" stroke="#111" stroke-width="1.8"/>
<polyline points="356.8,765.8 356.8,880.5" fill="none" stroke="#111" stroke-width="1.8"/>
<polyline points="367.1,776.3 367.1,880.5" fill="none" stroke="#303030" stroke-width="1"/>
<polyline points="456.3,797.8 456.3,817.5" fill="none" stroke="#303030" stroke-width="1"/>
<rect x="454.6" y="817.5" width="3.5" height="7.8" fill="none" stroke="#111" stroke-width="0.9" rx="0"/>
<polyline points="456.3,825.3 456.3,873.9" fill="none" stroke="#303030" stroke-width="1"/>
<circle cx="456.3" cy="857" r="2.6" fill="#111"/>
<polyline points="456.3,857 396.8,857 396.8,927.6" fill="none" stroke="#303030" stroke-width="1"/>
<circle cx="456.3" cy="877" r="3.1" fill="none" stroke="#111" stroke-width="1.1"/>
<polyline points="452.4,880.9 460.2,873.1" fill="none" stroke="#303030" stroke-width="1.1"/>
<polyline points="456.3,880.1 456.3,900.5" fill="none" stroke="#303030" stroke-width="1"/>
<polyline points="443.6,897.2 490.8,897.2" fill="none" stroke="#111" stroke-width="1.8"/>
<polyline points="443.6,897.2 443.6,916.4 490.8,916.4 490.8,897.2" fill="none" stroke="#303030" stroke-width="1.1"/>
<polyline points="449,900.3 456.3,912.3" fill="none" stroke="#303030" stroke-width="1.1"/>
<polyline points="456.3,912.3 456.3,936.3" fill="none" stroke="#303030" stroke-width="1"/>
<polyline points="440.5,906.4 447,906.4" fill="none" stroke="#303030" stroke-width="0.9"/>
<polyline points="451,906.4 457,906.4" fill="none" stroke="#303030" stroke-width="0.9"/>
<polyline points="461,906.4 467,906.4" fill="none" stroke="#303030" stroke-width="0.9"/>
<polyline points="469,906.4 472.6,906.4" fill="none" stroke="#303030" stroke-width="0.9"/>
<rect x="472.6" y="903.2" width="14.4" height="7.1" fill="none" stroke="#111" stroke-width="1.1" rx="0"/>
<circle cx="456.3" cy="942" r="5.7" fill="none" stroke="#111" stroke-width="1.1"/>
<text x="456.3" y="944.5" font-size="7" text-anchor="middle" font-family="Liberation Serif" font-weight="normal" fill="#111" stroke="#111" stroke-width="0.28" transform="translate(456.3,944.5) scale(0.8,1) translate(-456.3,-944.5)">M</text>
<polyline points="456.3,947.7 456.3,972.6" fill="none" stroke="#303030" stroke-width="1"/>
<polyline points="438.2,959.8 479.7,959.8" fill="none" stroke="#303030" stroke-width="1"/>
<circle cx="456.3" cy="959.8" r="1.4" fill="#111"/>
<polyline points="450.3,972.6 462.3,972.6" fill="none" stroke="#303030" stroke-width="1.1"/>
<polyline points="452.7,975.6 459.9,975.6" fill="none" stroke="#303030" stroke-width="1.1"/>
<polyline points="454.8,978.4 457.8,978.4" fill="none" stroke="#303030" stroke-width="1.1"/>
<polyline points="479.7,809.9 479.7,871" fill="none" stroke="#111" stroke-width="1.8"/>
<path d="M476.6 874.5 A3.1 3.1 0 0 0 482.8 874.5" fill="none" stroke="#303030" stroke-width="1.1"/>
<polyline points="479.7,874.5 479.7,959.8" fill="none" stroke="#111" stroke-width="1.8"/>
<rect x="385.3" y="936.2" width="47.5" height="24.1" fill="none" stroke="#111" stroke-width="1.2" rx="0"/>
<circle cx="397.4" cy="930.7" r="3.1" fill="none" stroke="#111" stroke-width="1.1"/>
<polyline points="393.5,934.6 401.3,926.8" fill="none" stroke="#303030" stroke-width="1.1"/>
<circle cx="421" cy="930.7" r="3.1" fill="none" stroke="#111" stroke-width="1.1"/>
<polyline points="417.1,934.6 424.9,926.8" fill="none" stroke="#303030" stroke-width="1.1"/>
<polyline points="421,927.6 421,912.9 438.2,912.9" fill="none" stroke="#111" stroke-width="1.6"/>
<polyline points="438.2,912.9 438.2,959.8" fill="none" stroke="#303030" stroke-width="1"/>
<text x="397.4" y="944" font-size="7" text-anchor="middle" font-family="Liberation Serif" font-weight="normal" fill="#111" stroke="#111" stroke-width="0.28">+</text>
<text x="421" y="944" font-size="7" text-anchor="middle" font-family="Liberation Serif" font-weight="normal" fill="#111" stroke="#111" stroke-width="0.28">-</text>
<rect x="510.3" y="948.2" width="62.1" height="29.3" fill="none" stroke="#111" stroke-width="1.2" rx="0"/>
<path d="M517.3 959.1 L518.8 960.5" fill="none" stroke="#303030" stroke-width="1"/>
<path d="M518.8 960.5 A2.45 2.45 0 0 0 523.7 960.5 A2.45 2.45 0 0 0 528.6 960.5 A2.45 2.45 0 0 0 533.5 960.5" fill="none" stroke="#303030" stroke-width="1"/>
<path d="M533.5 960.5 L535 959.1" fill="none" stroke="#303030" stroke-width="1"/>
<path d="M547.3 959.1 L548.8 960.5" fill="none" stroke="#303030" stroke-width="1"/>
<path d="M548.8 960.5 A2.52 2.52 0 0 0 553.83 960.5 A2.52 2.52 0 0 0 558.87 960.5 A2.52 2.52 0 0 0 563.9 960.5" fill="none" stroke="#303030" stroke-width="1"/>
<path d="M563.9 960.5 L565.4 959.1" fill="none" stroke="#303030" stroke-width="1"/>
<polyline points="612.4,976.8 612.4,962.3 788.8,962.3" fill="none" stroke="#303030" stroke-width="1"/>
<polyline points="606.4,976.8 618.4,976.8" fill="none" stroke="#303030" stroke-width="1.1"/>
<polyline points="608.8,979.8 616,979.8" fill="none" stroke="#303030" stroke-width="1.1"/>
<polyline points="610.9,982.6 613.9,982.6" fill="none" stroke="#303030" stroke-width="1.1"/>
<path d="M742.8 847.7 H885.3 V876 A10 10 0 0 0 896.5 886.2 A15.8 15.8 0 0 1 896.5 917.8 A10 10 0 0 0 885.3 926.6 V956.4 H742.8 V926.6 A10 10 0 0 0 731.6 917.8 A15.8 15.8 0 0 1 731.6 886.2 A10 10 0 0 0 742.8 876 Z" fill="none" stroke="#303030" stroke-width="1.2"/>
<circle cx="730.9" cy="902" r="5.5" fill="none" stroke="#111" stroke-width="1.1"/>
<circle cx="897" cy="902" r="5.5" fill="none" stroke="#111" stroke-width="1.1"/>
<rect x="747.5" y="852.5" width="134.5" height="99.4" fill="none" stroke="#111" stroke-width="1.1" rx="0"/>
<rect x="874.2" y="860.1" width="4.4" height="51.5" fill="none" stroke="#111" stroke-width="1.3" rx="0"/>
<rect x="755.1" y="862.5" width="9.8" height="9.6" fill="none" stroke="#111" stroke-width="1" rx="0"/>
<text x="760" y="870.1" font-size="9.12" text-anchor="middle" font-family="Liberation Sans" font-weight="normal" fill="#111" stroke="#111" stroke-width="0.28" transform="translate(760,870.1) scale(0.8,1) translate(-760,-870.1)">1</text>
<rect x="764.9" y="862.5" width="9.8" height="9.6" fill="none" stroke="#111" stroke-width="1" rx="0"/>
<text x="769.8" y="870.1" font-size="9.12" text-anchor="middle" font-family="Liberation Sans" font-weight="normal" fill="#111" stroke="#111" stroke-width="0.28" transform="translate(769.8,870.1) scale(0.8,1) translate(-769.8,-870.1)">2</text>
<rect x="755.1" y="872.1" width="9.8" height="9.6" fill="none" stroke="#111" stroke-width="1" rx="0"/>
<text x="760" y="879.7" font-size="9.12" text-anchor="middle" font-family="Liberation Sans" font-weight="normal" fill="#111" stroke="#111" stroke-width="0.28" transform="translate(760,879.7) scale(0.8,1) translate(-760,-879.7)">3</text>
<rect x="764.9" y="872.1" width="9.8" height="9.6" fill="none" stroke="#111" stroke-width="1" rx="0"/>
<text x="769.8" y="879.7" font-size="9.12" text-anchor="middle" font-family="Liberation Sans" font-weight="normal" fill="#111" stroke="#111" stroke-width="0.28" transform="translate(769.8,879.7) scale(0.8,1) translate(-769.8,-879.7)">4</text>
<rect x="755.1" y="881.7" width="9.8" height="9.6" fill="none" stroke="#111" stroke-width="1" rx="0"/>
<text x="760" y="889.3" font-size="9.12" text-anchor="middle" font-family="Liberation Sans" font-weight="normal" fill="#111" stroke="#111" stroke-width="0.28" transform="translate(760,889.3) scale(0.8,1) translate(-760,-889.3)">5</text>
<rect x="764.9" y="881.7" width="9.8" height="9.6" fill="none" stroke="#111" stroke-width="1" rx="0"/>
<text x="769.8" y="889.3" font-size="9.12" text-anchor="middle" font-family="Liberation Sans" font-weight="normal" fill="#111" stroke="#111" stroke-width="0.28" transform="translate(769.8,889.3) scale(0.8,1) translate(-769.8,-889.3)">6</text>
<rect x="755.1" y="891.3" width="9.8" height="9.6" fill="none" stroke="#111" stroke-width="1" rx="0"/>
<text x="760" y="898.9" font-size="9.12" text-anchor="middle" font-family="Liberation Sans" font-weight="normal" fill="#111" stroke="#111" stroke-width="0.28" transform="translate(760,898.9) scale(0.8,1) translate(-760,-898.9)">7</text>
<rect x="764.9" y="891.3" width="9.8" height="9.6" fill="none" stroke="#111" stroke-width="1" rx="0"/>
<text x="769.8" y="898.9" font-size="9.12" text-anchor="middle" font-family="Liberation Sans" font-weight="normal" fill="#111" stroke="#111" stroke-width="0.28" transform="translate(769.8,898.9) scale(0.8,1) translate(-769.8,-898.9)">8</text>
<rect x="755.1" y="900.9" width="9.8" height="9.6" fill="none" stroke="#111" stroke-width="1" rx="0"/>
<text x="760" y="908.5" font-size="9.12" text-anchor="middle" font-family="Liberation Sans" font-weight="normal" fill="#111" stroke="#111" stroke-width="0.28" transform="translate(760,908.5) scale(0.8,1) translate(-760,-908.5)">9</text>
<rect x="764.9" y="900.9" width="9.8" height="9.6" fill="none" stroke="#111" stroke-width="1" rx="0"/>
<text x="769.8" y="908.5" font-size="9.12" text-anchor="middle" font-family="Liberation Sans" font-weight="normal" fill="#111" stroke="#111" stroke-width="0.28" transform="translate(769.8,908.5) scale(0.8,1) translate(-769.8,-908.5)">10</text>
<rect x="755.1" y="862.5" width="19.6" height="48" fill="none" stroke="#111" stroke-width="1.8" rx="0"/>
<polyline points="774.7,876.7 825.8,876.7" fill="none" stroke="#303030" stroke-width="1"/>
<circle cx="799.8" cy="876.7" r="2.3" fill="#111"/>
<polyline points="799.8,876.7 799.8,905.7 774.7,905.7" fill="none" stroke="#303030" stroke-width="1"/>
<polyline points="774.7,886.5 789.2,886.5 789.2,984.4 1031.7,984.4" fill="none" stroke="#303030" stroke-width="1"/>
<circle cx="789.2" cy="962.4" r="2.3" fill="#111"/>
<polyline points="774.7,895.4 856,895.4" fill="none" stroke="#303030" stroke-width="1"/>
<polyline points="855.5,895.4 855.5,776.5" fill="none" stroke="#111" stroke-width="1.8"/>
<polyline points="755.1,905.7 742.8,905.7 742.8,926.6 725.3,926.6 725.3,945.9 697,945.9 697,809.9" fill="none" stroke="#303030" stroke-width="1"/>
<rect x="805.3" y="925.8" width="10" height="10.2" fill="none" stroke="#111" stroke-width="1" rx="0"/>
<text x="810.3" y="934" font-size="9.69" text-anchor="middle" font-family="Liberation Sans" font-weight="normal" fill="#111" stroke="#111" stroke-width="0.28" transform="translate(810.3,934) scale(0.8,1) translate(-810.3,-934)">2</text>
<rect x="805.3" y="936" width="10" height="10.2" fill="none" stroke="#111" stroke-width="1" rx="0"/>
<text x="810.3" y="944.2" font-size="9.69" text-anchor="middle" font-family="Liberation Sans" font-weight="normal" fill="#111" stroke="#111" stroke-width="0.28" transform="translate(810.3,944.2) scale(0.8,1) translate(-810.3,-944.2)">1</text>
<rect x="805.3" y="925.8" width="10" height="20.4" fill="none" stroke="#111" stroke-width="1.8" rx="0"/>
<rect x="817.4" y="925.8" width="9.75" height="10.2" fill="none" stroke="#111" stroke-width="1" rx="0"/>
<text x="822.27" y="934" font-size="9.69" text-anchor="middle" font-family="Liberation Sans" font-weight="normal" fill="#111" stroke="#111" stroke-width="0.28" transform="translate(822.27,934) scale(0.8,1) translate(-822.27,-934)">2</text>
<rect x="827.15" y="925.8" width="9.75" height="10.2" fill="none" stroke="#111" stroke-width="1" rx="0"/>
<text x="832.02" y="934" font-size="9.69" text-anchor="middle" font-family="Liberation Sans" font-weight="normal" fill="#111" stroke="#111" stroke-width="0.28" transform="translate(832.02,934) scale(0.8,1) translate(-832.02,-934)">4</text>
<rect x="836.9" y="925.8" width="9.75" height="10.2" fill="none" stroke="#111" stroke-width="1" rx="0"/>
<text x="841.77" y="934" font-size="9.69" text-anchor="middle" font-family="Liberation Sans" font-weight="normal" fill="#111" stroke="#111" stroke-width="0.28" transform="translate(841.77,934) scale(0.8,1) translate(-841.77,-934)">6</text>
<rect x="817.4" y="936" width="9.75" height="10.2" fill="none" stroke="#111" stroke-width="1" rx="0"/>
<text x="822.27" y="944.2" font-size="9.69" text-anchor="middle" font-family="Liberation Sans" font-weight="normal" fill="#111" stroke="#111" stroke-width="0.28" transform="translate(822.27,944.2) scale(0.8,1) translate(-822.27,-944.2)">1</text>
<rect x="827.15" y="936" width="9.75" height="10.2" fill="none" stroke="#111" stroke-width="1" rx="0"/>
<text x="832.02" y="944.2" font-size="9.69" text-anchor="middle" font-family="Liberation Sans" font-weight="normal" fill="#111" stroke="#111" stroke-width="0.28" transform="translate(832.02,944.2) scale(0.8,1) translate(-832.02,-944.2)">3</text>
<rect x="836.9" y="936" width="9.75" height="10.2" fill="none" stroke="#111" stroke-width="1" rx="0"/>
<text x="841.77" y="944.2" font-size="9.69" text-anchor="middle" font-family="Liberation Sans" font-weight="normal" fill="#111" stroke="#111" stroke-width="0.28" transform="translate(841.77,944.2) scale(0.8,1) translate(-841.77,-944.2)">5</text>
<rect x="817.4" y="925.8" width="29.25" height="20.4" fill="none" stroke="#111" stroke-width="1.8" rx="0"/>
<rect x="850.2" y="925.8" width="10" height="10.2" fill="none" stroke="#111" stroke-width="1" rx="0"/>
<text x="855.2" y="934" font-size="9.69" text-anchor="middle" font-family="Liberation Sans" font-weight="normal" fill="#111" stroke="#111" stroke-width="0.28" transform="translate(855.2,934) scale(0.8,1) translate(-855.2,-934)">2</text>
<rect x="850.2" y="936" width="10" height="10.2" fill="none" stroke="#111" stroke-width="1" rx="0"/>
<text x="855.2" y="944.2" font-size="9.69" text-anchor="middle" font-family="Liberation Sans" font-weight="normal" fill="#111" stroke="#111" stroke-width="0.28" transform="translate(855.2,944.2) scale(0.8,1) translate(-855.2,-944.2)">1</text>
<rect x="850.2" y="925.8" width="10" height="20.4" fill="none" stroke="#111" stroke-width="1.8" rx="0"/>
<polyline points="818.2,925.8 818.2,917.5 823.2,917.5 823.2,925.8" fill="none" stroke="#303030" stroke-width="1.1"/>
<polyline points="828.2,925.8 828.2,917.5 832.2,917.5 832.2,925.8" fill="none" stroke="#303030" stroke-width="1.1"/>
<polyline points="841.7,925.8 841.7,917.5 848.9,917.5 848.9,925.8" fill="none" stroke="#303030" stroke-width="1.1"/>
<polyline points="855.2,925.8 855.2,917.6 882.5,917.6 882.5,1046.3" fill="none" stroke="#303030" stroke-width="1"/>
<polyline points="855.1,946.1 855.1,967.5 874.7,967.5" fill="none" stroke="#303030" stroke-width="1"/>
<polyline points="874.7,967.5 874.7,1032" fill="none" stroke="#111" stroke-width="1.4"/>
<polyline points="817.6,946.1 817.6,1023.4 838.9,1023.4 838.9,1002 846,1002" fill="none" stroke="#303030" stroke-width="1"/>
<polyline points="817.6,1001.5 825,1001.5" fill="none" stroke="#303030" stroke-width="1"/>
<polyline points="827.6,946.1 827.6,987.7" fill="none" stroke="#111" stroke-width="1.8"/>
<path d="M827.6 987.7 A3.74 3.74 0 0 0 827.6 995.18 A3.74 3.74 0 0 0 827.6 1002.65 A3.74 3.74 0 0 0 827.6 1010.12 A3.74 3.74 0 0 0 827.6 1017.6" fill="none" stroke="#303030" stroke-width="1"/>
<polyline points="827.6,1017.6 827.6,1018.7 832.6,1018.7 832.6,946.1" fill="none" stroke="#303030" stroke-width="1"/>
<polyline points="842,946.1 842,1023.2" fill="none" stroke="#111" stroke-width="1.8"/>
<polyline points="842,1023.2 849.2,1023.2 849.2,1016.5" fill="none" stroke="#303030" stroke-width="1"/>
<path d="M849.2 1016.5 A3.6 3.6 0 0 1 849.2 1009.3 A3.6 3.6 0 0 1 849.2 1002.1 A3.6 3.6 0 0 1 849.2 994.9 A3.6 3.6 0 0 1 849.2 987.7" fill="none" stroke="#303030" stroke-width="1"/>
<polyline points="849.2,987.7 849.2,946.1" fill="none" stroke="#303030" stroke-width="1"/>
<circle cx="983" cy="856.6" r="23.4" fill="none" stroke="#111" stroke-width="0.9" stroke-dasharray="3 2 1 2"/>
<circle cx="986.5" cy="838.3" r="3.6" fill="none" stroke="#111" stroke-width="0.8" stroke-dasharray="2 1.5"/>
<circle cx="972.8" cy="842.1" r="3.6" fill="none" stroke="#111" stroke-width="0.8" stroke-dasharray="2 1.5"/>
<circle cx="997.5" cy="849.4" r="3.6" fill="none" stroke="#111" stroke-width="0.8" stroke-dasharray="2 1.5"/>
<circle cx="968.4" cy="854.7" r="3.6" fill="none" stroke="#111" stroke-width="0.8" stroke-dasharray="2 1.5"/>
<circle cx="983.6" cy="854.7" r="3.6" fill="none" stroke="#111" stroke-width="0.8" stroke-dasharray="2 1.5"/>
<circle cx="996.3" cy="863.6" r="3.6" fill="none" stroke="#111" stroke-width="0.8" stroke-dasharray="2 1.5"/>
<circle cx="972.2" cy="867.4" r="3.6" fill="none" stroke="#111" stroke-width="0.8" stroke-dasharray="2 1.5"/>
<circle cx="986.1" cy="873.1" r="3.6" fill="none" stroke="#111" stroke-width="0.8" stroke-dasharray="2 1.5"/>
<circle cx="913.9" cy="819.3" r="2.3" fill="#111"/>
<polyline points="913.9,819.3 1021.9,819.3 1021.9,863.9 999.9,863.9" fill="none" stroke="#303030" stroke-width="1"/>
<circle cx="986.5" cy="819.3" r="2.3" fill="#111"/>
<polyline points="986.5,819.3 986.5,834.5" fill="none" stroke="#111" stroke-width="1.8"/>
<polyline points="1001.1,849.4 1031.7,849.4" fill="none" stroke="#303030" stroke-width="1"/>
<polyline points="1031.7,849.4 1031.7,984.3" fill="none" stroke="#111" stroke-width="1.8"/>
<circle cx="1031.7" cy="984.3" r="2.3" fill="#111"/>
<polyline points="1025.7,993.7 1037.7,993.7" fill="none" stroke="#303030" stroke-width="1.1"/>
<polyline points="1028.1,996.7 1035.3,996.7" fill="none" stroke="#303030" stroke-width="1.1"/>
<polyline points="1030.2,999.5 1033.2,999.5" fill="none" stroke="#303030" stroke-width="1.1"/>
<polyline points="1031.7,984.3 1031.7,993.7" fill="none" stroke="#303030" stroke-width="1"/>
<text x="1117.4" y="908" font-size="9" text-anchor="start" font-family="Liberation Serif" font-weight="normal" fill="#111" stroke="#111" stroke-width="0.3" textLength="16.5" lengthAdjust="spacingAndGlyphs">WIRE</text>
<polyline points="1071.4,914 1192.4,914" fill="none" stroke="#303030" stroke-width="1.2"/>
<polyline points="1071.4,927.1 1192.4,927.1" fill="none" stroke="#303030" stroke-width="1.2"/>
<polyline points="1071.4,940.7 1192.4,940.7" fill="none" stroke="#111" stroke-width="1.5"/>
<polyline points="1071.4,953.6 1192.4,953.6" fill="none" stroke="#111" stroke-width="1.5"/>
<polyline points="1071.4,967.7 1192.4,967.7" fill="none" stroke="#303030" stroke-width="1.2"/>
<polyline points="1071.4,914 1071.4,967.7" fill="none" stroke="#303030" stroke-width="1.2"/>
<polyline points="1082.3,914 1082.3,967.7" fill="none" stroke="#303030" stroke-width="1.2"/>
<polyline points="1111.5,914 1111.5,967.7" fill="none" stroke="#111" stroke-width="1.8"/>
<polyline points="1126.5,914 1126.5,967.7" fill="none" stroke="#303030" stroke-width="1.2"/>
<polyline points="1151.6,914 1151.6,967.7" fill="none" stroke="#303030" stroke-width="1.2"/>
<polyline points="1166.5,914 1166.5,967.7" fill="none" stroke="#303030" stroke-width="1.2"/>
<polyline points="1192.4,914 1192.4,967.7" fill="none" stroke="#303030" stroke-width="1.2"/>
<text x="1072.7" y="922.35" font-size="5" text-anchor="start" font-family="Liberation Sans" font-weight="bold" fill="#333" transform="translate(1072.7,922.35) scale(0.8,1) translate(-1072.7,-922.35)">BK</text>
<text x="1083.6" y="922.35" font-size="5" text-anchor="start" font-family="Liberation Sans" font-weight="bold" fill="#333" transform="translate(1083.6,922.35) scale(0.8,1) translate(-1083.6,-922.35)">Black</text>
<text x="1112.8" y="922.35" font-size="5" text-anchor="start" font-family="Liberation Sans" font-weight="bold" fill="#333" transform="translate(1112.8,922.35) scale(0.8,1) translate(-1112.8,-922.35)">R</text>
<text x="1127.8" y="922.35" font-size="5" text-anchor="start" font-family="Liberation Sans" font-weight="bold" fill="#333" transform="translate(1127.8,922.35) scale(0.8,1) translate(-1127.8,-922.35)">Red</text>
<text x="1152.9" y="922.35" font-size="5" text-anchor="start" font-family="Liberation Sans" font-weight="bold" fill="#333" transform="translate(1152.9,922.35) scale(0.8,1) translate(-1152.9,-922.35)">Br</text>
<text x="1167.8" y="922.35" font-size="5" text-anchor="start" font-family="Liberation Sans" font-weight="bold" fill="#333" transform="translate(1167.8,922.35) scale(0.8,1) translate(-1167.8,-922.35)">Brown</text>
<text x="1072.7" y="935.7" font-size="5" text-anchor="start" font-family="Liberation Sans" font-weight="bold" fill="#333" transform="translate(1072.7,935.7) scale(0.8,1) translate(-1072.7,-935.7)">Y</text>
<text x="1083.6" y="935.7" font-size="5" text-anchor="start" font-family="Liberation Sans" font-weight="bold" fill="#333" transform="translate(1083.6,935.7) scale(0.8,1) translate(-1083.6,-935.7)">Yellow</text>
<text x="1112.8" y="935.7" font-size="5" text-anchor="start" font-family="Liberation Sans" font-weight="bold" fill="#333" transform="translate(1112.8,935.7) scale(0.8,1) translate(-1112.8,-935.7)">W</text>
<text x="1127.8" y="935.7" font-size="5" text-anchor="start" font-family="Liberation Sans" font-weight="bold" fill="#333" transform="translate(1127.8,935.7) scale(0.8,1) translate(-1127.8,-935.7)">White</text>
<text x="1152.9" y="935.7" font-size="5" text-anchor="start" font-family="Liberation Sans" font-weight="bold" fill="#333" transform="translate(1152.9,935.7) scale(0.8,1) translate(-1152.9,-935.7)">G</text>
<text x="1167.8" y="935.7" font-size="5" text-anchor="start" font-family="Liberation Sans" font-weight="bold" fill="#333" transform="translate(1167.8,935.7) scale(0.8,1) translate(-1167.8,-935.7)">Green</text>
<text x="1072.7" y="948.95" font-size="5" text-anchor="start" font-family="Liberation Sans" font-weight="bold" fill="#333" transform="translate(1072.7,948.95) scale(0.8,1) translate(-1072.7,-948.95)">Bu</text>
<text x="1083.6" y="948.95" font-size="5" text-anchor="start" font-family="Liberation Sans" font-weight="bold" fill="#333" transform="translate(1083.6,948.95) scale(0.8,1) translate(-1083.6,-948.95)">Blue</text>
<text x="1112.8" y="948.95" font-size="5" text-anchor="start" font-family="Liberation Sans" font-weight="bold" fill="#333" transform="translate(1112.8,948.95) scale(0.8,1) translate(-1112.8,-948.95)">Gr</text>
<text x="1127.8" y="948.95" font-size="5" text-anchor="start" font-family="Liberation Sans" font-weight="bold" fill="#333" transform="translate(1127.8,948.95) scale(0.8,1) translate(-1127.8,-948.95)">Green</text>
<text x="1152.9" y="948.95" font-size="5" text-anchor="start" font-family="Liberation Sans" font-weight="bold" fill="#333" transform="translate(1152.9,948.95) scale(0.8,1) translate(-1152.9,-948.95)">P</text>
<text x="1167.8" y="948.95" font-size="5" text-anchor="start" font-family="Liberation Sans" font-weight="bold" fill="#333" transform="translate(1167.8,948.95) scale(0.8,1) translate(-1167.8,-948.95)">Pink</text>
<text x="1072.7" y="962.45" font-size="5" text-anchor="start" font-family="Liberation Sans" font-weight="bold" fill="#333" transform="translate(1072.7,962.45) scale(0.8,1) translate(-1072.7,-962.45)">Y/G</text>
<text x="1083.6" y="962.45" font-size="5" text-anchor="start" font-family="Liberation Sans" font-weight="bold" fill="#333" transform="translate(1083.6,962.45) scale(0.8,1) translate(-1083.6,-962.45)">Yellow/Green</text>
<text x="1112.8" y="962.45" font-size="5" text-anchor="start" font-family="Liberation Sans" font-weight="bold" fill="#333" transform="translate(1112.8,962.45) scale(0.8,1) translate(-1112.8,-962.45)">G/W</text>
<text x="1127.8" y="962.45" font-size="5" text-anchor="start" font-family="Liberation Sans" font-weight="bold" fill="#333" transform="translate(1127.8,962.45) scale(0.8,1) translate(-1127.8,-962.45)">Green/White</text>
<text x="1072.6" y="1011.7" font-size="12.5" text-anchor="start" font-family="Liberation Serif" font-weight="normal" fill="#111" stroke="#111" stroke-width="0.1" textLength="88.1" lengthAdjust="spacingAndGlyphs">switch continuity</text>
<polyline points="1019.4,1015.4 1215.5,1015.4" fill="none" stroke="#303030" stroke-width="1.2"/>
<polyline points="1019.4,1027.3 1215.5,1027.3" fill="none" stroke="#303030" stroke-width="1.2"/>
<polyline points="1019.4,1039.6 1215.5,1039.6" fill="none" stroke="#303030" stroke-width="1.2"/>
<polyline points="1019.4,1050.3 1215.5,1050.3" fill="none" stroke="#303030" stroke-width="1.2"/>
<polyline points="1019.4,1062.2 1215.5,1062.2" fill="none" stroke="#303030" stroke-width="1.2"/>
<polyline points="1019.4,1015.4 1019.4,1062.2" fill="none" stroke="#303030" stroke-width="1.2"/>
<polyline points="1042.3,1015.4 1042.3,1062.2" fill="none" stroke="#303030" stroke-width="1.2"/>
<polyline points="1065.3,1015.4 1065.3,1062.2" fill="none" stroke="#303030" stroke-width="1.2"/>
<polyline points="1088.7,1015.4 1088.7,1062.2" fill="none" stroke="#303030" stroke-width="1.2"/>
<polyline points="1111.6,1015.4 1111.6,1062.2" fill="none" stroke="#111" stroke-width="1.8"/>
<polyline points="1134.6,1015.4 1134.6,1062.2" fill="none" stroke="#111" stroke-width="1.8"/>
<polyline points="1151.3,1015.4 1151.3,1062.2" fill="none" stroke="#303030" stroke-width="1.2"/>
<polyline points="1174.6,1015.4 1174.6,1062.2" fill="none" stroke="#303030" stroke-width="1.2"/>
<polyline points="1192.5,1015.4 1192.5,1062.2" fill="none" stroke="#303030" stroke-width="1.2"/>
<polyline points="1215.5,1015.4 1215.5,1062.2" fill="none" stroke="#303030" stroke-width="1.2"/>
<text x="1053.9" y="1025.3" font-size="10" text-anchor="middle" font-family="Liberation Serif" font-weight="normal" fill="#111" stroke="#111" stroke-width="0.28" transform="translate(1053.9,1025.3) scale(0.75,1) translate(-1053.9,-1025.3)">IG</text>
<text x="1076.7" y="1025.3" font-size="10" text-anchor="middle" font-family="Liberation Serif" font-weight="normal" fill="#111" stroke="#111" stroke-width="0.28" transform="translate(1076.7,1025.3) scale(0.75,1) translate(-1076.7,-1025.3)">E</text>
<text x="1099.9" y="1025.3" font-size="10" text-anchor="middle" font-family="Liberation Serif" font-weight="normal" fill="#111" stroke="#111" stroke-width="0.28" transform="translate(1099.9,1025.3) scale(0.75,1) translate(-1099.9,-1025.3)">PS</text>
<text x="1123.2" y="1025.3" font-size="10" text-anchor="middle" font-family="Liberation Serif" font-weight="normal" fill="#111" stroke="#111" stroke-width="0.28" transform="translate(1123.2,1025.3) scale(0.75,1) translate(-1123.2,-1025.3)">LB</text>
<text x="1140.2" y="1025.3" font-size="10" text-anchor="middle" font-family="Liberation Serif" font-weight="normal" fill="#111" stroke="#111" stroke-width="0.28" transform="translate(1140.2,1025.3) scale(0.75,1) translate(-1140.2,-1025.3)">B</text>
<text x="1163.2" y="1025.3" font-size="10" text-anchor="middle" font-family="Liberation Serif" font-weight="normal" fill="#111" stroke="#111" stroke-width="0.28" transform="translate(1163.2,1025.3) scale(0.75,1) translate(-1163.2,-1025.3)">B+</text>
<text x="1183.5" y="1025.3" font-size="10" text-anchor="middle" font-family="Liberation Serif" font-weight="normal" fill="#111" stroke="#111" stroke-width="0.28" transform="translate(1183.5,1025.3) scale(0.75,1) translate(-1183.5,-1025.3)">ST1</text>
<text x="1204" y="1025.3" font-size="10" text-anchor="middle" font-family="Liberation Serif" font-weight="normal" fill="#111" stroke="#111" stroke-width="0.28" transform="translate(1204,1025.3) scale(0.75,1) translate(-1204,-1025.3)">ST2</text>
<text x="1031" y="1035.9" font-size="10.5" text-anchor="middle" font-family="Liberation Serif" font-weight="normal" fill="#111" stroke="#111" stroke-width="0.28" transform="translate(1031,1035.9) scale(0.85,1) translate(-1031,-1035.9)">off</text>
<text x="1031" y="1047.4" font-size="10.5" text-anchor="middle" font-family="Liberation Serif" font-weight="normal" fill="#111" stroke="#111" stroke-width="0.28" transform="translate(1031,1047.4) scale(0.85,1) translate(-1031,-1047.4)">on</text>
<text x="1031" y="1058.8" font-size="10.5" text-anchor="middle" font-family="Liberation Serif" font-weight="normal" fill="#111" stroke="#111" stroke-width="0.28" transform="translate(1031,1058.8) scale(0.85,1) translate(-1031,-1058.8)">start</text>
<polyline points="1058,1033 1072,1033" fill="none" stroke="#303030" stroke-width="1.1"/>
<circle cx="1055.6" cy="1033" r="2.4" fill="#fff" stroke="#111" stroke-width="1.1"/>
<circle cx="1074.4" cy="1033" r="2.4" fill="#fff" stroke="#111" stroke-width="1.1"/>
<polyline points="1104.3,1033 1118.3,1033" fill="none" stroke="#303030" stroke-width="1.1"/>
<circle cx="1101.9" cy="1033" r="2.4" fill="#fff" stroke="#111" stroke-width="1.1"/>
<circle cx="1120.7" cy="1033" r="2.4" fill="#fff" stroke="#111" stroke-width="1.1"/>
<polyline points="1142.5,1044.9 1142.5,1055.8" fill="none" stroke="#303030" stroke-width="1.1"/>
<polyline points="1161.2,1044.9 1161.2,1055.8" fill="none" stroke="#303030" stroke-width="1.1"/>
<polyline points="1144.9,1044.9 1158.8,1044.9" fill="none" stroke="#303030" stroke-width="1.1"/>
<circle cx="1142.5" cy="1044.9" r="2.4" fill="#fff" stroke="#111" stroke-width="1.1"/>
<circle cx="1161.2" cy="1044.9" r="2.4" fill="#fff" stroke="#111" stroke-width="1.1"/>
<polyline points="1144.9,1055.8 1158.8,1055.8" fill="none" stroke="#303030" stroke-width="1.1"/>
<circle cx="1142.5" cy="1055.8" r="2.4" fill="#fff" stroke="#111" stroke-width="1.1"/>
<circle cx="1161.2" cy="1055.8" r="2.4" fill="#fff" stroke="#111" stroke-width="1.1"/>
<polyline points="1185.2,1055.8 1199.1,1055.8" fill="none" stroke="#303030" stroke-width="1.1"/>
<circle cx="1182.8" cy="1055.8" r="2.4" fill="#fff" stroke="#111" stroke-width="1.1"/>
<circle cx="1201.5" cy="1055.8" r="2.4" fill="#fff" stroke="#111" stroke-width="1.1"/>
<text x="52.5" y="218.5" font-size="11" text-anchor="start" font-family="Liberation Mono" font-weight="normal" fill="#111" stroke="#111" stroke-width="0.12" textLength="60" lengthAdjust="spacingAndGlyphs">Generator Block</text>
<text x="1125" y="216.5" font-size="11" text-anchor="start" font-family="Liberation Mono" font-weight="normal" fill="#111" stroke="#111" stroke-width="0.12" textLength="76" lengthAdjust="spacingAndGlyphs">Control Panel Block</text>
<text x="614.3" y="1067" font-size="11" text-anchor="start" font-family="Liberation Mono" font-weight="normal" fill="#111" stroke="#111" stroke-width="0.12" textLength="48.4" lengthAdjust="spacingAndGlyphs">Engine Block</text>
<text x="339.5" y="223" font-size="39" text-anchor="start" font-family="Liberation Serif" font-weight="normal" fill="#111" stroke="#111" stroke-width="0.2" textLength="75" lengthAdjust="spacingAndGlyphs">7500EA</text>
<text x="222" y="301.8" font-size="8.5" text-anchor="start" font-family="Liberation Mono" font-weight="normal" fill="#111" stroke="#111" stroke-width="0.2" textLength="7" lengthAdjust="spacingAndGlyphs">BK</text>
<text x="75" y="360.8" font-size="9" text-anchor="start" font-family="Liberation Mono" font-weight="normal" fill="#111" stroke="#111" stroke-width="0.2" textLength="29.5" lengthAdjust="spacingAndGlyphs">main coil</text>
<text x="211" y="397" font-size="8.5" text-anchor="start" font-family="Liberation Mono" font-weight="normal" fill="#111" stroke="#111" stroke-width="0.2" textLength="6.5" lengthAdjust="spacingAndGlyphs">BK</text>
<text x="211" y="418.5" font-size="8.5" text-anchor="start" font-family="Liberation Mono" font-weight="normal" fill="#111" stroke="#111" stroke-width="0.2" textLength="7" lengthAdjust="spacingAndGlyphs">BK</text>
<text x="252.6" y="386.7" font-size="8.8" text-anchor="start" font-family="Liberation Mono" font-weight="normal" fill="#111" stroke="#111" stroke-width="0.2" textLength="16.3" lengthAdjust="spacingAndGlyphs">12AWG</text>
<text x="364.3" y="386.7" font-size="8.8" text-anchor="start" font-family="Liberation Mono" font-weight="normal" fill="#111" stroke="#111" stroke-width="0.2" textLength="16.4" lengthAdjust="spacingAndGlyphs">12AWG</text>
<text x="252.6" y="403" font-size="8.8" text-anchor="start" font-family="Liberation Mono" font-weight="normal" fill="#111" stroke="#111" stroke-width="0.2" textLength="16.3" lengthAdjust="spacingAndGlyphs">12AWG</text>
<text x="364.3" y="403" font-size="8.8" text-anchor="start" font-family="Liberation Mono" font-weight="normal" fill="#111" stroke="#111" stroke-width="0.2" textLength="16.4" lengthAdjust="spacingAndGlyphs">12AWG</text>
<text x="252.6" y="419.2" font-size="8.8" text-anchor="start" font-family="Liberation Mono" font-weight="normal" fill="#111" stroke="#111" stroke-width="0.2" textLength="16.3" lengthAdjust="spacingAndGlyphs">12AWG</text>
<text x="364.3" y="419.2" font-size="8.8" text-anchor="start" font-family="Liberation Mono" font-weight="normal" fill="#111" stroke="#111" stroke-width="0.2" textLength="16.4" lengthAdjust="spacingAndGlyphs">12AWG</text>
<text x="47.5" y="492.5" font-size="9" text-anchor="start" font-family="Liberation Mono" font-weight="normal" fill="#111" stroke="#111" stroke-width="0.2" textLength="36.5" lengthAdjust="spacingAndGlyphs">supply coil</text>
<text x="214" y="499" font-size="8.5" text-anchor="start" font-family="Liberation Mono" font-weight="normal" fill="#111" stroke="#111" stroke-width="0.2" textLength="7" lengthAdjust="spacingAndGlyphs">OG</text>
<text x="214" y="547" font-size="8.5" text-anchor="start" font-family="Liberation Mono" font-weight="normal" fill="#111" stroke="#111" stroke-width="0.2" textLength="7" lengthAdjust="spacingAndGlyphs">OG</text>
<text x="333.3" y="498" font-size="8.8" text-anchor="start" font-family="Liberation Mono" font-weight="normal" fill="#111" stroke="#111" stroke-width="0.2" textLength="16" lengthAdjust="spacingAndGlyphs">20AWG</text>
<text x="333.3" y="514.5" font-size="8.8" text-anchor="start" font-family="Liberation Mono" font-weight="normal" fill="#111" stroke="#111" stroke-width="0.2" textLength="16" lengthAdjust="spacingAndGlyphs">20AWG</text>
<text x="306" y="568.5" font-size="8.5" text-anchor="start" font-family="Liberation Mono" font-weight="normal" fill="#111" stroke="#111" stroke-width="0.2" textLength="8" lengthAdjust="spacingAndGlyphs">8A</text>
<text x="49.5" y="608" font-size="9" text-anchor="start" font-family="Liberation Mono" font-weight="normal" fill="#111" stroke="#111" stroke-width="0.2" textLength="23" lengthAdjust="spacingAndGlyphs">DC coil</text>
<text x="161" y="610.5" font-size="7.5" text-anchor="start" font-family="Liberation Mono" font-weight="normal" fill="#111" stroke="#111" stroke-width="0.2" textLength="6" lengthAdjust="spacingAndGlyphs">G</text>
<text x="191" y="610" font-size="8.8" text-anchor="start" font-family="Liberation Mono" font-weight="normal" fill="#111" stroke="#111" stroke-width="0.2" textLength="17" lengthAdjust="spacingAndGlyphs">16AWG</text>
<text x="160" y="656" font-size="8.5" text-anchor="start" font-family="Liberation Mono" font-weight="normal" fill="#111" stroke="#111" stroke-width="0.2" textLength="7" lengthAdjust="spacingAndGlyphs">BU</text>
<text x="191" y="656" font-size="8.8" text-anchor="start" font-family="Liberation Mono" font-weight="normal" fill="#111" stroke="#111" stroke-width="0.2" textLength="17" lengthAdjust="spacingAndGlyphs">16AWG</text>
<text x="165" y="683" font-size="8.5" text-anchor="start" font-family="Liberation Mono" font-weight="normal" fill="#111" stroke="#111" stroke-width="0.2" textLength="3.5" lengthAdjust="spacingAndGlyphs">R</text>
<text x="178.7" y="683" font-size="8.8" text-anchor="start" font-family="Liberation Mono" font-weight="normal" fill="#111" stroke="#111" stroke-width="0.2" textLength="16.3" lengthAdjust="spacingAndGlyphs">20AWG</text>
<text x="73" y="696.8" font-size="10" text-anchor="start" font-family="Liberation Mono" font-weight="normal" fill="#111" stroke="#111" stroke-width="0.12" textLength="31.2" lengthAdjust="spacingAndGlyphs">ignition</text>
<text x="73" y="709.3" font-size="10" text-anchor="start" font-family="Liberation Mono" font-weight="normal" fill="#111" stroke="#111" stroke-width="0.12" textLength="19.5" lengthAdjust="spacingAndGlyphs">power</text>
<text x="73" y="720.5" font-size="10" text-anchor="start" font-family="Liberation Mono" font-weight="normal" fill="#111" stroke="#111" stroke-width="0.12" textLength="28.2" lengthAdjust="spacingAndGlyphs">winding</text>
<text x="474" y="475.3" font-size="9.5" text-anchor="start" font-family="Liberation Mono" font-weight="normal" fill="#111" stroke="#111" stroke-width="0.2" textLength="26.4" lengthAdjust="spacingAndGlyphs">Inverter</text>
<text x="551.5" y="334.5" font-size="11" text-anchor="start" font-family="Liberation Mono" font-weight="normal" fill="#111" stroke="#111" stroke-width="0.12" textLength="12.7" lengthAdjust="spacingAndGlyphs">Y/G</text>
<text x="585.5" y="369.2" font-size="8.5" text-anchor="start" font-family="Liberation Mono" font-weight="normal" fill="#111" stroke="#111" stroke-width="0.2" textLength="7" lengthAdjust="spacingAndGlyphs">BK</text>
<text x="585.5" y="383" font-size="8.5" text-anchor="start" font-family="Liberation Mono" font-weight="normal" fill="#111" stroke="#111" stroke-width="0.2" textLength="6" lengthAdjust="spacingAndGlyphs">Br</text>
<text x="585.5" y="398" font-size="8.5" text-anchor="start" font-family="Liberation Mono" font-weight="normal" fill="#111" stroke="#111" stroke-width="0.2" textLength="3.5" lengthAdjust="spacingAndGlyphs">R</text>
<text x="585.5" y="412.5" font-size="8.5" text-anchor="start" font-family="Liberation Mono" font-weight="normal" fill="#111" stroke="#111" stroke-width="0.2" textLength="3.5" lengthAdjust="spacingAndGlyphs">G</text>
<text x="585.5" y="429.2" font-size="8.5" text-anchor="start" font-family="Liberation Mono" font-weight="normal" fill="#111" stroke="#111" stroke-width="0.2" textLength="6" lengthAdjust="spacingAndGlyphs">Bu</text>
<text x="623" y="368" font-size="8.8" text-anchor="start" font-family="Liberation Mono" font-weight="normal" fill="#111" stroke="#111" stroke-width="0.2" textLength="16" lengthAdjust="spacingAndGlyphs">22AWG</text>
<text x="623" y="383" font-size="8.8" text-anchor="start" font-family="Liberation Mono" font-weight="normal" fill="#111" stroke="#111" stroke-width="0.2" textLength="16" lengthAdjust="spacingAndGlyphs">22AWG</text>
<text x="623" y="397.2" font-size="8.8" text-anchor="start" font-family="Liberation Mono" font-weight="normal" fill="#111" stroke="#111" stroke-width="0.2" textLength="16" lengthAdjust="spacingAndGlyphs">22AWG</text>
<text x="623" y="411.7" font-size="8.8" text-anchor="start" font-family="Liberation Mono" font-weight="normal" fill="#111" stroke="#111" stroke-width="0.2" textLength="16" lengthAdjust="spacingAndGlyphs">22AWG</text>
<text x="623" y="426" font-size="8.8" text-anchor="start" font-family="Liberation Mono" font-weight="normal" fill="#111" stroke="#111" stroke-width="0.2" textLength="16" lengthAdjust="spacingAndGlyphs">22AWG</text>
<text x="582.4" y="487.7" font-size="8.5" text-anchor="start" font-family="Liberation Mono" font-weight="normal" fill="#111" stroke="#111" stroke-width="0.2" textLength="4.6" lengthAdjust="spacingAndGlyphs">Y</text>
<text x="582.4" y="502" font-size="8.5" text-anchor="start" font-family="Liberation Mono" font-weight="normal" fill="#111" stroke="#111" stroke-width="0.2" textLength="6.6" lengthAdjust="spacingAndGlyphs">BK</text>
<text x="582.4" y="515.4" font-size="8.5" text-anchor="start" font-family="Liberation Mono" font-weight="normal" fill="#111" stroke="#111" stroke-width="0.2" textLength="6.6" lengthAdjust="spacingAndGlyphs">OG</text>
<text x="582.4" y="527.3" font-size="8.5" text-anchor="start" font-family="Liberation Mono" font-weight="normal" fill="#111" stroke="#111" stroke-width="0.2" textLength="6.6" lengthAdjust="spacingAndGlyphs">PK</text>
<text x="598" y="487.5" font-size="8.8" text-anchor="start" font-family="Liberation Mono" font-weight="normal" fill="#111" stroke="#111" stroke-width="0.2" textLength="16" lengthAdjust="spacingAndGlyphs">26AWG</text>
<text x="598" y="501.2" font-size="8.8" text-anchor="start" font-family="Liberation Mono" font-weight="normal" fill="#111" stroke="#111" stroke-width="0.2" textLength="16" lengthAdjust="spacingAndGlyphs">26AWG</text>
<text x="598" y="515" font-size="8.8" text-anchor="start" font-family="Liberation Mono" font-weight="normal" fill="#111" stroke="#111" stroke-width="0.2" textLength="16" lengthAdjust="spacingAndGlyphs">26AWG</text>
<text x="587.5" y="537" font-size="8.8" text-anchor="start" font-family="Liberation Mono" font-weight="normal" fill="#111" stroke="#111" stroke-width="0.2" textLength="15.5" lengthAdjust="spacingAndGlyphs">26AWG</text>
<text x="723" y="409" font-size="9.5" text-anchor="start" font-family="Liberation Mono" font-weight="normal" fill="#111" stroke="#111" stroke-width="0.2" textLength="40" lengthAdjust="spacingAndGlyphs">Reset switch</text>
<text x="690.8" y="439" font-size="9.5" text-anchor="start" font-family="Liberation Mono" font-weight="normal" fill="#111" stroke="#111" stroke-width="0.2" textLength="39.2" lengthAdjust="spacingAndGlyphs">smart switch</text>
<text x="728.8" y="332" font-size="8.8" text-anchor="start" font-family="Liberation Mono" font-weight="normal" fill="#111" stroke="#111" stroke-width="0.2" textLength="30.7" lengthAdjust="spacingAndGlyphs">Y/G 10AWG</text>
<text x="779.5" y="210" font-size="8.5" text-anchor="start" font-family="Liberation Mono" font-weight="normal" fill="#111" stroke="#111" stroke-width="0.2" textLength="3.3" lengthAdjust="spacingAndGlyphs">R</text>
<text x="789.7" y="210" font-size="8.8" text-anchor="start" font-family="Liberation Mono" font-weight="normal" fill="#111" stroke="#111" stroke-width="0.2" textLength="16.4" lengthAdjust="spacingAndGlyphs">22AWG</text>
<text x="841.7" y="210" font-size="8.8" text-anchor="start" font-family="Liberation Mono" font-weight="normal" fill="#111" stroke="#111" stroke-width="0.2" textLength="27.1" lengthAdjust="spacingAndGlyphs">BK 22AWG</text>
<text x="806.8" y="230" font-size="9.5" text-anchor="start" font-family="Liberation Mono" font-weight="normal" fill="#111" stroke="#111" stroke-width="0.2" textLength="43.9" lengthAdjust="spacingAndGlyphs">Digital meter</text>
<text x="863.2" y="245" font-size="8.5" text-anchor="start" font-family="Liberation Mono" font-weight="normal" fill="#111" stroke="#111" stroke-width="0.2" textLength="3.1" lengthAdjust="spacingAndGlyphs">R</text>
<text x="877.4" y="245" font-size="8.8" text-anchor="start" font-family="Liberation Mono" font-weight="normal" fill="#111" stroke="#111" stroke-width="0.2" textLength="16.4" lengthAdjust="spacingAndGlyphs">10AWG</text>
<text x="758.8" y="276" font-size="8.5" text-anchor="start" font-family="Liberation Mono" font-weight="normal" fill="#111" stroke="#111" stroke-width="0.2" textLength="6.7" lengthAdjust="spacingAndGlyphs">BK</text>
<text x="775.8" y="276" font-size="8.8" text-anchor="start" font-family="Liberation Mono" font-weight="normal" fill="#111" stroke="#111" stroke-width="0.2" textLength="16.2" lengthAdjust="spacingAndGlyphs">10AWG</text>
<text x="843.2" y="309.5" font-size="8.5" text-anchor="start" font-family="Liberation Mono" font-weight="normal" fill="#111" stroke="#111" stroke-width="0.2" textLength="33.5" lengthAdjust="spacingAndGlyphs">AC250V 32A</text>
<text x="850.8" y="319.5" font-size="9" text-anchor="start" font-family="Liberation Mono" font-weight="normal" fill="#111" stroke="#111" stroke-width="0.2" textLength="19" lengthAdjust="spacingAndGlyphs">socket</text>
<text x="957.8" y="309.5" font-size="8.5" text-anchor="start" font-family="Liberation Mono" font-weight="normal" fill="#111" stroke="#111" stroke-width="0.2" textLength="34.2" lengthAdjust="spacingAndGlyphs">AC250V 16A</text>
<text x="965" y="319.5" font-size="9" text-anchor="start" font-family="Liberation Mono" font-weight="normal" fill="#111" stroke="#111" stroke-width="0.2" textLength="18.7" lengthAdjust="spacingAndGlyphs">socket</text>
<text x="959" y="273.5" font-size="8.5" text-anchor="start" font-family="Liberation Mono" font-weight="normal" fill="#111" stroke="#111" stroke-width="0.2" textLength="7" lengthAdjust="spacingAndGlyphs">BK</text>
<text x="976" y="273.5" font-size="8.8" text-anchor="start" font-family="Liberation Mono" font-weight="normal" fill="#111" stroke="#111" stroke-width="0.2" textLength="16.5" lengthAdjust="spacingAndGlyphs">14AWG</text>
<text x="1005" y="247" font-size="8.5" text-anchor="start" font-family="Liberation Mono" font-weight="normal" fill="#111" stroke="#111" stroke-width="0.2" textLength="3.2" lengthAdjust="spacingAndGlyphs">R</text>
<text x="1018.5" y="247" font-size="8.8" text-anchor="start" font-family="Liberation Mono" font-weight="normal" fill="#111" stroke="#111" stroke-width="0.2" textLength="16.5" lengthAdjust="spacingAndGlyphs">14AWG</text>
<text x="1084" y="247" font-size="8.5" text-anchor="start" font-family="Liberation Mono" font-weight="normal" fill="#111" stroke="#111" stroke-width="0.2" textLength="3.2" lengthAdjust="spacingAndGlyphs">R</text>
<text x="1098" y="247" font-size="8.8" text-anchor="start" font-family="Liberation Mono" font-weight="normal" fill="#111" stroke="#111" stroke-width="0.2" textLength="16.5" lengthAdjust="spacingAndGlyphs">14AWG</text>
<text x="987" y="347" font-size="8.8" text-anchor="start" font-family="Liberation Mono" font-weight="normal" fill="#111" stroke="#111" stroke-width="0.2" textLength="29.3" lengthAdjust="spacingAndGlyphs">Y/G 14AWG</text>
<text x="1066.3" y="347" font-size="8.8" text-anchor="start" font-family="Liberation Mono" font-weight="normal" fill="#111" stroke="#111" stroke-width="0.2" textLength="30" lengthAdjust="spacingAndGlyphs">Y/G 14AWG</text>
<text x="933" y="365.5" font-size="11" text-anchor="start" font-family="Liberation Mono" font-weight="normal" fill="#111" stroke="#111" stroke-width="0.12" textLength="12.8" lengthAdjust="spacingAndGlyphs">Y/G</text>
<text x="1141" y="305.5" font-size="7" text-anchor="start" font-family="Liberation Mono" font-weight="normal" fill="#111" stroke="#111" stroke-width="0.2" textLength="16" lengthAdjust="spacingAndGlyphs">AC230V</text>
<text x="1141" y="316" font-size="7" text-anchor="start" font-family="Liberation Mono" font-weight="normal" fill="#111" stroke="#111" stroke-width="0.2" textLength="21.5" lengthAdjust="spacingAndGlyphs">Parallel</text>
<text x="1141" y="324.5" font-size="7" text-anchor="start" font-family="Liberation Mono" font-weight="normal" fill="#111" stroke="#111" stroke-width="0.2" textLength="16" lengthAdjust="spacingAndGlyphs">socket</text>
<text x="424" y="583.5" font-size="8.5" text-anchor="start" font-family="Liberation Mono" font-weight="normal" fill="#111" stroke="#111" stroke-width="0.2" textLength="7" lengthAdjust="spacingAndGlyphs">BU</text>
<text x="436" y="583.5" font-size="8.8" text-anchor="start" font-family="Liberation Mono" font-weight="normal" fill="#111" stroke="#111" stroke-width="0.2" textLength="16.5" lengthAdjust="spacingAndGlyphs">16AWG</text>
<text x="424" y="607.5" font-size="8.5" text-anchor="start" font-family="Liberation Mono" font-weight="normal" fill="#111" stroke="#111" stroke-width="0.2" textLength="7" lengthAdjust="spacingAndGlyphs">BU</text>
<text x="436" y="607.5" font-size="8.8" text-anchor="start" font-family="Liberation Mono" font-weight="normal" fill="#111" stroke="#111" stroke-width="0.2" textLength="16.5" lengthAdjust="spacingAndGlyphs">16AWG</text>
<text x="397.6" y="672" font-size="17" text-anchor="start" font-family="Liberation Serif" font-weight="normal" fill="#111" stroke="#111" stroke-width="0.15" textLength="45.8" lengthAdjust="spacingAndGlyphs">charger</text>
<text x="446.8" y="654" font-size="8.5" text-anchor="start" font-family="Liberation Mono" font-weight="normal" fill="#111" stroke="#111" stroke-width="0.2" textLength="2.7" lengthAdjust="spacingAndGlyphs">R</text>
<text x="453.3" y="654" font-size="8.8" text-anchor="start" font-family="Liberation Mono" font-weight="normal" fill="#111" stroke="#111" stroke-width="0.2" textLength="16.3" lengthAdjust="spacingAndGlyphs">16AWG</text>
<text x="446.5" y="675.5" font-size="8.5" text-anchor="start" font-family="Liberation Mono" font-weight="normal" fill="#111" stroke="#111" stroke-width="0.2" textLength="7" lengthAdjust="spacingAndGlyphs">BK</text>
<text x="456.5" y="675.5" font-size="8.8" text-anchor="start" font-family="Liberation Mono" font-weight="normal" fill="#111" stroke="#111" stroke-width="0.2" textLength="16" lengthAdjust="spacingAndGlyphs">16AWG</text>
<text x="543.5" y="584" font-size="9" text-anchor="start" font-family="Liberation Mono" font-weight="normal" fill="#111" stroke="#111" stroke-width="0.2" textLength="3" lengthAdjust="spacingAndGlyphs">3</text>
<text x="469.3" y="638" font-size="8.5" text-anchor="start" font-family="Liberation Mono" font-weight="normal" fill="#111" stroke="#111" stroke-width="0.2" textLength="7.1" lengthAdjust="spacingAndGlyphs">BK</text>
<text x="491" y="644" font-size="8.5" text-anchor="start" font-family="Liberation Mono" font-weight="normal" fill="#111" stroke="#111" stroke-width="0.2" textLength="7" lengthAdjust="spacingAndGlyphs">BK</text>
<text x="504.5" y="644" font-size="8.8" text-anchor="start" font-family="Liberation Mono" font-weight="normal" fill="#111" stroke="#111" stroke-width="0.2" textLength="16.5" lengthAdjust="spacingAndGlyphs">16AWG</text>
<text x="542.5" y="624.5" font-size="8.5" text-anchor="start" font-family="Liberation Mono" font-weight="normal" fill="#111" stroke="#111" stroke-width="0.2" textLength="2.5" lengthAdjust="spacingAndGlyphs">R</text>
<text x="554" y="624.5" font-size="8.8" text-anchor="start" font-family="Liberation Mono" font-weight="normal" fill="#111" stroke="#111" stroke-width="0.2" textLength="16" lengthAdjust="spacingAndGlyphs">16AWG</text>
<text x="613" y="619.5" font-size="9" text-anchor="start" font-family="Liberation Mono" font-weight="normal" fill="#111" stroke="#111" stroke-width="0.2" textLength="33" lengthAdjust="spacingAndGlyphs">DC12V/8.3A</text>
<text x="657.3" y="652.5" font-size="8.8" text-anchor="start" font-family="Liberation Mono" font-weight="normal" fill="#111" stroke="#111" stroke-width="0.2" textLength="26.9" lengthAdjust="spacingAndGlyphs">BK 22AWG</text>
<text x="674.3" y="564.5" font-size="8.5" text-anchor="start" font-family="Liberation Mono" font-weight="normal" fill="#111" stroke="#111" stroke-width="0.2" textLength="3.2" lengthAdjust="spacingAndGlyphs">R</text>
<text x="684" y="564.5" font-size="8.8" text-anchor="start" font-family="Liberation Mono" font-weight="normal" fill="#111" stroke="#111" stroke-width="0.2" textLength="16.9" lengthAdjust="spacingAndGlyphs">22AWG</text>
<text x="701.3" y="572.5" font-size="7" text-anchor="start" font-family="Liberation Mono" font-weight="normal" fill="#111" textLength="3.7" lengthAdjust="spacingAndGlyphs">+</text>
<text x="708" y="548" font-size="9" text-anchor="start" font-family="Liberation Mono" font-weight="normal" fill="#111" stroke="#111" stroke-width="0.2" textLength="33.7" lengthAdjust="spacingAndGlyphs">USB Socket</text>
<text x="713.2" y="600.6" font-size="9" text-anchor="start" font-family="Liberation Mono" font-weight="normal" fill="#111" stroke="#111" stroke-width="0.2" textLength="40.8" lengthAdjust="spacingAndGlyphs">5V/2.1A-1.0A</text>
<text x="441.8" y="823.5" font-size="8.5" text-anchor="start" font-family="Liberation Mono" font-weight="normal" fill="#111" stroke="#111" stroke-width="0.2" textLength="9.4" lengthAdjust="spacingAndGlyphs">10A</text>
<text x="926.1" y="548" font-size="9.5" text-anchor="start" font-family="Liberation Mono" font-weight="normal" fill="#111" stroke="#111" stroke-width="0.2" textLength="46.9" lengthAdjust="spacingAndGlyphs">3in1 indicator</text>
<text x="884.4" y="566" font-size="8.5" text-anchor="start" font-family="Liberation Mono" font-weight="normal" fill="#111" stroke="#111" stroke-width="0.2" textLength="3.1" lengthAdjust="spacingAndGlyphs">R</text>
<text x="884.4" y="577.5" font-size="8.5" text-anchor="start" font-family="Liberation Mono" font-weight="normal" fill="#111" stroke="#111" stroke-width="0.2" textLength="3.1" lengthAdjust="spacingAndGlyphs">G</text>
<text x="884.4" y="589.5" font-size="8.5" text-anchor="start" font-family="Liberation Mono" font-weight="normal" fill="#111" stroke="#111" stroke-width="0.2" textLength="6.1" lengthAdjust="spacingAndGlyphs">BK</text>
<text x="884.4" y="600.8" font-size="8.5" text-anchor="start" font-family="Liberation Mono" font-weight="normal" fill="#111" stroke="#111" stroke-width="0.2" textLength="3.1" lengthAdjust="spacingAndGlyphs">R</text>
<text x="884.4" y="613" font-size="8.5" text-anchor="start" font-family="Liberation Mono" font-weight="normal" fill="#111" stroke="#111" stroke-width="0.2" textLength="5.6" lengthAdjust="spacingAndGlyphs">Rg</text>
<text x="952.3" y="565" font-size="9" text-anchor="start" font-family="Liberation Mono" font-weight="normal" fill="#111" stroke="#111" stroke-width="0.2" textLength="20.1" lengthAdjust="spacingAndGlyphs">Output</text>
<text x="948" y="574.5" font-size="9" text-anchor="start" font-family="Liberation Mono" font-weight="normal" fill="#111" stroke="#111" stroke-width="0.2" textLength="29" lengthAdjust="spacingAndGlyphs">indicator</text>
<text x="974" y="582.5" font-size="8.5" text-anchor="start" font-family="Liberation Mono" font-weight="normal" fill="#111" stroke="#111" stroke-width="0.2" textLength="3.6" lengthAdjust="spacingAndGlyphs">G</text>
<text x="950.3" y="590.5" font-size="9" text-anchor="start" font-family="Liberation Mono" font-weight="normal" fill="#111" stroke="#111" stroke-width="0.2" textLength="26.7" lengthAdjust="spacingAndGlyphs">Overload</text>
<text x="949" y="600" font-size="9" text-anchor="start" font-family="Liberation Mono" font-weight="normal" fill="#111" stroke="#111" stroke-width="0.2" textLength="29" lengthAdjust="spacingAndGlyphs">indicator</text>
<text x="974.5" y="611.5" font-size="8.5" text-anchor="start" font-family="Liberation Mono" font-weight="normal" fill="#111" stroke="#111" stroke-width="0.2" textLength="3.5" lengthAdjust="spacingAndGlyphs">R</text>
<text x="947.5" y="620.5" font-size="9" text-anchor="start" font-family="Liberation Mono" font-weight="normal" fill="#111" stroke="#111" stroke-width="0.2" textLength="30" lengthAdjust="spacingAndGlyphs">Oil Alarm</text>
<text x="974.5" y="632" font-size="8.5" text-anchor="start" font-family="Liberation Mono" font-weight="normal" fill="#111" stroke="#111" stroke-width="0.2" textLength="3.5" lengthAdjust="spacingAndGlyphs">Y</text>
<text x="1059.3" y="659.5" font-size="9.5" text-anchor="start" font-family="Liberation Mono" font-weight="normal" fill="#111" stroke="#111" stroke-width="0.2" textLength="46.1" lengthAdjust="spacingAndGlyphs">Engine switch</text>
<text x="1002.8" y="664.3" font-size="12.5" text-anchor="start" font-family="Liberation Serif" font-weight="normal" fill="#111" stroke="#111" stroke-width="0.2" textLength="47.7" lengthAdjust="spacingAndGlyphs">green/white</text>
<text x="1002.8" y="679" font-size="12.5" text-anchor="start" font-family="Liberation Serif" font-weight="normal" fill="#111" stroke="#111" stroke-width="0.2" textLength="47.7" lengthAdjust="spacingAndGlyphs">green/white</text>
<text x="1002.8" y="692.8" font-size="12.5" text-anchor="start" font-family="Liberation Serif" font-weight="normal" fill="#111" stroke="#111" stroke-width="0.2" textLength="52" lengthAdjust="spacingAndGlyphs">yellow/green</text>
<text x="1024.8" y="702.5" font-size="9.5" text-anchor="start" font-family="Liberation Mono" font-weight="normal" fill="#111" stroke="#111" stroke-width="0.2" textLength="16.4" lengthAdjust="spacingAndGlyphs">black</text>
<text x="1024.8" y="715.5" font-size="9.5" text-anchor="start" font-family="Liberation Mono" font-weight="normal" fill="#111" stroke="#111" stroke-width="0.2" textLength="10" lengthAdjust="spacingAndGlyphs">red</text>
<text x="1024.8" y="728.5" font-size="9.5" text-anchor="start" font-family="Liberation Mono" font-weight="normal" fill="#111" stroke="#111" stroke-width="0.2" textLength="10" lengthAdjust="spacingAndGlyphs">red</text>
<text x="1027.7" y="740" font-size="8.5" text-anchor="start" font-family="Liberation Mono" font-weight="normal" fill="#111" stroke="#111" stroke-width="0.2" textLength="3.6" lengthAdjust="spacingAndGlyphs">K</text>
<text x="1023.4" y="753.5" font-size="9" text-anchor="start" font-family="Liberation Mono" font-weight="normal" fill="#111" stroke="#111" stroke-width="0.2" textLength="10.7" lengthAdjust="spacingAndGlyphs">B/W</text>
<text x="1023.4" y="770" font-size="9" text-anchor="start" font-family="Liberation Mono" font-weight="normal" fill="#111" stroke="#111" stroke-width="0.2" textLength="10.7" lengthAdjust="spacingAndGlyphs">Y/G</text>
<text x="48.7" y="884" font-size="10" text-anchor="start" font-family="Liberation Mono" font-weight="normal" fill="#111" stroke="#111" stroke-width="0.12" textLength="43.3" lengthAdjust="spacingAndGlyphs">TEMP.Sensor</text>
<text x="98.2" y="921" font-size="10" text-anchor="start" font-family="Liberation Serif" font-weight="normal" fill="#111" stroke="#111" stroke-width="0.12" textLength="12.3" lengthAdjust="spacingAndGlyphs">BK</text>
<text x="116.5" y="921" font-size="10" text-anchor="start" font-family="Liberation Serif" font-weight="normal" fill="#111" stroke="#111" stroke-width="0.12" textLength="21.5" lengthAdjust="spacingAndGlyphs">20AWG</text>
<text x="140.7" y="868.5" font-size="8.5" text-anchor="start" font-family="Liberation Mono" font-weight="normal" fill="#111" stroke="#111" stroke-width="0.2" textLength="11.3" lengthAdjust="spacingAndGlyphs">G/W</text>
<text x="133.7" y="882" font-size="8.8" text-anchor="start" font-family="Liberation Mono" font-weight="normal" fill="#111" stroke="#111" stroke-width="0.2" textLength="16.8" lengthAdjust="spacingAndGlyphs">22AWG</text>
<text x="174.5" y="803.5" font-size="8.5" text-anchor="start" font-family="Liberation Mono" font-weight="normal" fill="#111" stroke="#111" stroke-width="0.2" textLength="10.5" lengthAdjust="spacingAndGlyphs">G/W</text>
<text x="177" y="815" font-size="8.8" text-anchor="start" font-family="Liberation Mono" font-weight="normal" fill="#111" stroke="#111" stroke-width="0.2" textLength="16.7" lengthAdjust="spacingAndGlyphs">22AWG</text>
<text x="142" y="982.5" font-size="10.5" text-anchor="start" font-family="Liberation Mono" font-weight="normal" fill="#111" stroke="#111" stroke-width="0.12" textLength="40" lengthAdjust="spacingAndGlyphs">Carburetor</text>
<text x="142" y="994" font-size="10.5" text-anchor="start" font-family="Liberation Mono" font-weight="normal" fill="#111" stroke="#111" stroke-width="0.12" textLength="32.5" lengthAdjust="spacingAndGlyphs">Solenoid</text>
<text x="142" y="1005.5" font-size="10.5" text-anchor="start" font-family="Liberation Mono" font-weight="normal" fill="#111" stroke="#111" stroke-width="0.12" textLength="20.5" lengthAdjust="spacingAndGlyphs">Valve</text>
<text x="205.8" y="807.5" font-size="8.5" text-anchor="start" font-family="Liberation Mono" font-weight="normal" fill="#111" stroke="#111" stroke-width="0.2" textLength="6.7" lengthAdjust="spacingAndGlyphs">BU</text>
<text x="205.8" y="817.5" font-size="8.8" text-anchor="start" font-family="Liberation Mono" font-weight="normal" fill="#111" stroke="#111" stroke-width="0.2" textLength="16.7" lengthAdjust="spacingAndGlyphs">22AWG</text>
<text x="193.7" y="903" font-size="8.5" text-anchor="start" font-family="Liberation Mono" font-weight="normal" fill="#111" stroke="#111" stroke-width="0.2" textLength="6.3" lengthAdjust="spacingAndGlyphs">BK</text>
<text x="188" y="1004" font-size="10.5" text-anchor="start" font-family="Liberation Mono" font-weight="normal" fill="#111" stroke="#111" stroke-width="0.12" textLength="27.5" lengthAdjust="spacingAndGlyphs">Trigger</text>
<text x="188" y="1016" font-size="10.5" text-anchor="start" font-family="Liberation Mono" font-weight="normal" fill="#111" stroke="#111" stroke-width="0.12" textLength="28.2" lengthAdjust="spacingAndGlyphs">winding</text>
<text x="248" y="910.5" font-size="8.5" text-anchor="start" font-family="Liberation Mono" font-weight="normal" fill="#111" stroke="#111" stroke-width="0.2" textLength="3.5" lengthAdjust="spacingAndGlyphs">Y</text>
<text x="242" y="1004" font-size="10.5" text-anchor="start" font-family="Liberation Mono" font-weight="normal" fill="#111" stroke="#111" stroke-width="0.12" textLength="39.2" lengthAdjust="spacingAndGlyphs">Oil sensor</text>
<text x="293" y="997" font-size="10.5" text-anchor="start" font-family="Liberation Mono" font-weight="normal" fill="#111" stroke="#111" stroke-width="0.12" textLength="27.7" lengthAdjust="spacingAndGlyphs">Digital</text>
<text x="293" y="1009" font-size="10.5" text-anchor="start" font-family="Liberation Mono" font-weight="normal" fill="#111" stroke="#111" stroke-width="0.12" textLength="32" lengthAdjust="spacingAndGlyphs">Ignition</text>
<text x="379" y="890.5" font-size="8.8" text-anchor="start" font-family="Liberation Mono" font-weight="normal" fill="#111" stroke="#111" stroke-width="0.2" textLength="16" lengthAdjust="spacingAndGlyphs">10AWG</text>
<text x="390.5" y="900" font-size="8.5" text-anchor="start" font-family="Liberation Mono" font-weight="normal" fill="#111" stroke="#111" stroke-width="0.2" textLength="3" lengthAdjust="spacingAndGlyphs">R</text>
<text x="419.2" y="898" font-size="8.8" text-anchor="start" font-family="Liberation Mono" font-weight="normal" fill="#111" stroke="#111" stroke-width="0.2" textLength="15.5" lengthAdjust="spacingAndGlyphs">10AWG</text>
<text x="426" y="910.5" font-size="8.5" text-anchor="start" font-family="Liberation Mono" font-weight="normal" fill="#111" stroke="#111" stroke-width="0.2" textLength="7" lengthAdjust="spacingAndGlyphs">BK</text>
<text x="388.2" y="955.5" font-size="10" text-anchor="start" font-family="Liberation Mono" font-weight="normal" fill="#111" stroke="#111" stroke-width="0.12" textLength="43.6" lengthAdjust="spacingAndGlyphs">12V Battery</text>
<text x="526.1" y="997.5" font-size="10.5" text-anchor="start" font-family="Liberation Mono" font-weight="normal" fill="#111" stroke="#111" stroke-width="0.12" textLength="40.4" lengthAdjust="spacingAndGlyphs">step motor</text>
<text x="771" y="1001.5" font-size="11" text-anchor="start" font-family="Liberation Mono" font-weight="normal" fill="#111" stroke="#111" stroke-width="0.12" textLength="40" lengthAdjust="spacingAndGlyphs">choke step</text>
<text x="771" y="1012" font-size="11" text-anchor="start" font-family="Liberation Mono" font-weight="normal" fill="#111" stroke="#111" stroke-width="0.12" textLength="20" lengthAdjust="spacingAndGlyphs">motor</text>
<text x="960.8" y="894.5" font-size="9" text-anchor="start" font-family="Liberation Mono" font-weight="normal" fill="#111" stroke="#111" stroke-width="0.2" textLength="53.2" lengthAdjust="spacingAndGlyphs">8 pin ATS socket</text>
<text x="955.3" y="797" font-size="9" text-anchor="start" font-family="Liberation Mono" font-weight="normal" fill="#111" stroke="#111" stroke-width="0.2" textLength="4" lengthAdjust="spacingAndGlyphs">R</text>
<text x="483.5" y="746.5" font-size="8.5" text-anchor="start" font-family="Liberation Mono" font-weight="normal" fill="#111" stroke="#111" stroke-width="0.2" textLength="4" lengthAdjust="spacingAndGlyphs">R</text>
<text x="517.1" y="752.5" font-size="8.5" text-anchor="start" font-family="Liberation Mono" font-weight="normal" fill="#111" stroke="#111" stroke-width="0.2" textLength="6.4" lengthAdjust="spacingAndGlyphs">OG</text>
<text x="529.5" y="752.5" font-size="8.8" text-anchor="start" font-family="Liberation Mono" font-weight="normal" fill="#111" stroke="#111" stroke-width="0.2" textLength="16.6" lengthAdjust="spacingAndGlyphs">22AWG</text>
<text x="900.6" y="853" font-size="8.5" text-anchor="start" font-family="Liberation Mono" font-weight="normal" fill="#111" stroke="#111" stroke-width="0.2" textLength="10.8" lengthAdjust="spacingAndGlyphs">G/W</text>
<text x="706" y="944" font-size="8" text-anchor="start" font-family="Liberation Mono" font-weight="normal" fill="#111" stroke="#111" stroke-width="0.2" textLength="9" lengthAdjust="spacingAndGlyphs">B/W</text>
<text x="750.4" y="929.5" font-size="7.5" text-anchor="start" font-family="Liberation Mono" font-weight="normal" fill="#111" stroke="#111" stroke-width="0.2" textLength="18.6" lengthAdjust="spacingAndGlyphs">One key</text>
<text x="750.4" y="937.5" font-size="7.5" text-anchor="start" font-family="Liberation Mono" font-weight="normal" fill="#111" stroke="#111" stroke-width="0.2" textLength="43" lengthAdjust="spacingAndGlyphs">start the module</text>
<text x="779.2" y="869" font-size="7.5" text-anchor="start" font-family="Liberation Mono" font-weight="normal" fill="#111" stroke="#111" stroke-width="0.2" textLength="5.5" lengthAdjust="spacingAndGlyphs">J1</text>
<text x="787" y="875" font-size="6.5" text-anchor="start" font-family="Liberation Mono" font-weight="normal" fill="#111" stroke="#111" stroke-width="0.2" textLength="3" lengthAdjust="spacingAndGlyphs">R</text>
<text x="779.5" y="883.5" font-size="6.5" text-anchor="start" font-family="Liberation Mono" font-weight="normal" fill="#111" stroke="#111" stroke-width="0.2" textLength="3" lengthAdjust="spacingAndGlyphs">Y</text>
<text x="779.5" y="902.5" font-size="6.5" text-anchor="start" font-family="Liberation Mono" font-weight="normal" fill="#111" stroke="#111" stroke-width="0.2" textLength="3" lengthAdjust="spacingAndGlyphs">R</text>
<text x="723.8" y="883.5" font-size="6.5" text-anchor="start" font-family="Liberation Mono" font-weight="normal" fill="#111" stroke="#111" stroke-width="0.2" textLength="5.5" lengthAdjust="spacingAndGlyphs">Br</text>
<text x="805" y="922.5" font-size="7" text-anchor="start" font-family="Liberation Mono" font-weight="normal" fill="#111" stroke="#111" stroke-width="0.2" textLength="5" lengthAdjust="spacingAndGlyphs">J2</text>
<text x="834.8" y="922.5" font-size="7" text-anchor="start" font-family="Liberation Mono" font-weight="normal" fill="#111" stroke="#111" stroke-width="0.2" textLength="5" lengthAdjust="spacingAndGlyphs">J3</text>
<text x="856.5" y="922.5" font-size="7" text-anchor="start" font-family="Liberation Mono" font-weight="normal" fill="#111" stroke="#111" stroke-width="0.2" textLength="5" lengthAdjust="spacingAndGlyphs">J4</text>
<text x="869.5" y="925" font-size="9" text-anchor="start" font-family="Liberation Mono" font-weight="normal" fill="#111" stroke="#111" stroke-width="0.2" textLength="3" lengthAdjust="spacingAndGlyphs">3</text>
<text x="818.5" y="915.5" font-size="6" text-anchor="start" font-family="Liberation Mono" font-weight="normal" fill="#111" stroke="#111" stroke-width="0.2" textLength="3" lengthAdjust="spacingAndGlyphs">R</text>
<text x="829" y="915.5" font-size="6" text-anchor="start" font-family="Liberation Mono" font-weight="normal" fill="#111" stroke="#111" stroke-width="0.2" textLength="3" lengthAdjust="spacingAndGlyphs">Y</text>
<text x="842" y="915.5" font-size="6" text-anchor="start" font-family="Liberation Mono" font-weight="normal" fill="#111" stroke="#111" stroke-width="0.2" textLength="5" lengthAdjust="spacingAndGlyphs">Br</text>
<text x="860.5" y="964.5" font-size="10" text-anchor="start" font-family="Liberation Mono" font-weight="normal" fill="#111" stroke="#111" stroke-width="0.12" textLength="3.5" lengthAdjust="spacingAndGlyphs">3</text>
</svg>
</body></html>
